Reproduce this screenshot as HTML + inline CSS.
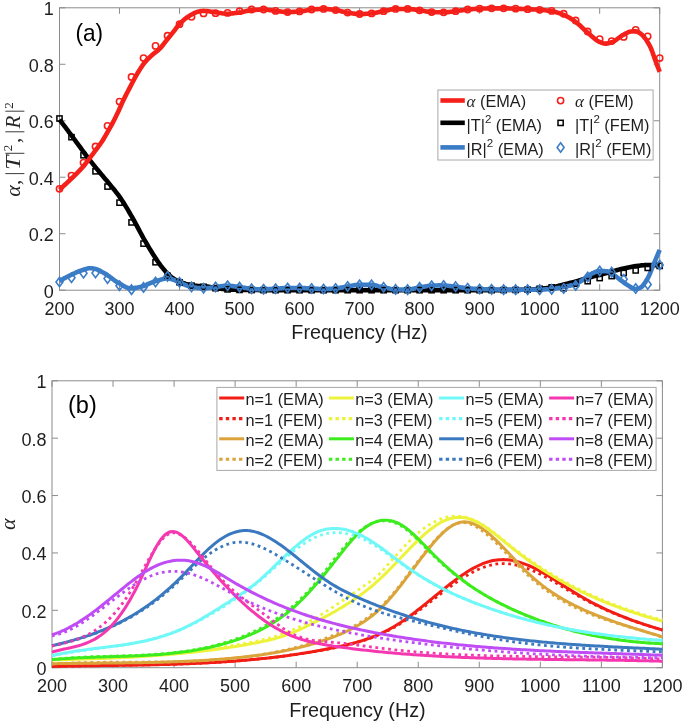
<!DOCTYPE html><html><head><meta charset="utf-8"><style>html,body{margin:0;padding:0;background:#fff;}svg{display:block;will-change:transform;}text{font-family:"Liberation Sans",sans-serif;fill:#1e1e1e;}</style></head><body>
<svg width="685" height="723" viewBox="0 0 685 723">
<rect width="685" height="723" fill="#fff"/>
<line x1="59.50" y1="290.2" x2="59.50" y2="284.2" stroke="#8c8c8c" stroke-width="1"/>
<line x1="59.50" y1="7.8" x2="59.50" y2="13.8" stroke="#8c8c8c" stroke-width="1"/>
<line x1="119.52" y1="290.2" x2="119.52" y2="284.2" stroke="#8c8c8c" stroke-width="1"/>
<line x1="119.52" y1="7.8" x2="119.52" y2="13.8" stroke="#8c8c8c" stroke-width="1"/>
<line x1="179.54" y1="290.2" x2="179.54" y2="284.2" stroke="#8c8c8c" stroke-width="1"/>
<line x1="179.54" y1="7.8" x2="179.54" y2="13.8" stroke="#8c8c8c" stroke-width="1"/>
<line x1="239.56" y1="290.2" x2="239.56" y2="284.2" stroke="#8c8c8c" stroke-width="1"/>
<line x1="239.56" y1="7.8" x2="239.56" y2="13.8" stroke="#8c8c8c" stroke-width="1"/>
<line x1="299.58" y1="290.2" x2="299.58" y2="284.2" stroke="#8c8c8c" stroke-width="1"/>
<line x1="299.58" y1="7.8" x2="299.58" y2="13.8" stroke="#8c8c8c" stroke-width="1"/>
<line x1="359.60" y1="290.2" x2="359.60" y2="284.2" stroke="#8c8c8c" stroke-width="1"/>
<line x1="359.60" y1="7.8" x2="359.60" y2="13.8" stroke="#8c8c8c" stroke-width="1"/>
<line x1="419.62" y1="290.2" x2="419.62" y2="284.2" stroke="#8c8c8c" stroke-width="1"/>
<line x1="419.62" y1="7.8" x2="419.62" y2="13.8" stroke="#8c8c8c" stroke-width="1"/>
<line x1="479.64" y1="290.2" x2="479.64" y2="284.2" stroke="#8c8c8c" stroke-width="1"/>
<line x1="479.64" y1="7.8" x2="479.64" y2="13.8" stroke="#8c8c8c" stroke-width="1"/>
<line x1="539.66" y1="290.2" x2="539.66" y2="284.2" stroke="#8c8c8c" stroke-width="1"/>
<line x1="539.66" y1="7.8" x2="539.66" y2="13.8" stroke="#8c8c8c" stroke-width="1"/>
<line x1="599.68" y1="290.2" x2="599.68" y2="284.2" stroke="#8c8c8c" stroke-width="1"/>
<line x1="599.68" y1="7.8" x2="599.68" y2="13.8" stroke="#8c8c8c" stroke-width="1"/>
<line x1="659.70" y1="290.2" x2="659.70" y2="284.2" stroke="#8c8c8c" stroke-width="1"/>
<line x1="659.70" y1="7.8" x2="659.70" y2="13.8" stroke="#8c8c8c" stroke-width="1"/>
<line x1="59.5" y1="290.20" x2="65.5" y2="290.20" stroke="#8c8c8c" stroke-width="1"/>
<line x1="659.7" y1="290.20" x2="653.7" y2="290.20" stroke="#8c8c8c" stroke-width="1"/>
<line x1="59.5" y1="233.72" x2="65.5" y2="233.72" stroke="#8c8c8c" stroke-width="1"/>
<line x1="659.7" y1="233.72" x2="653.7" y2="233.72" stroke="#8c8c8c" stroke-width="1"/>
<line x1="59.5" y1="177.24" x2="65.5" y2="177.24" stroke="#8c8c8c" stroke-width="1"/>
<line x1="659.7" y1="177.24" x2="653.7" y2="177.24" stroke="#8c8c8c" stroke-width="1"/>
<line x1="59.5" y1="120.76" x2="65.5" y2="120.76" stroke="#8c8c8c" stroke-width="1"/>
<line x1="659.7" y1="120.76" x2="653.7" y2="120.76" stroke="#8c8c8c" stroke-width="1"/>
<line x1="59.5" y1="64.28" x2="65.5" y2="64.28" stroke="#8c8c8c" stroke-width="1"/>
<line x1="659.7" y1="64.28" x2="653.7" y2="64.28" stroke="#8c8c8c" stroke-width="1"/>
<line x1="59.5" y1="7.80" x2="65.5" y2="7.80" stroke="#8c8c8c" stroke-width="1"/>
<line x1="659.7" y1="7.80" x2="653.7" y2="7.80" stroke="#8c8c8c" stroke-width="1"/>
<rect x="59.5" y="7.8" width="600.20" height="282.40" fill="none" stroke="#8c8c8c" stroke-width="1"/>
<g fill="none" stroke-linejoin="round" stroke-linecap="butt">
<path d="M59.50 119.63L60.70 121.19L61.91 122.75L63.11 124.32L64.31 125.90L65.51 127.48L66.72 129.07L67.92 130.67L69.12 132.27L70.33 133.88L71.53 135.50L72.73 137.13L73.93 138.76L75.14 140.39L76.34 142.02L77.54 143.65L78.74 145.30L79.95 146.95L81.15 148.61L82.35 150.26L83.56 151.91L84.76 153.55L85.96 155.17L87.16 156.76L88.37 158.32L89.57 159.87L90.77 161.39L91.98 162.91L93.18 164.40L94.38 165.89L95.58 167.37L96.79 168.84L97.99 170.31L99.19 171.77L100.40 173.21L101.60 174.64L102.80 176.06L104.00 177.47L105.21 178.88L106.41 180.29L107.61 181.72L108.82 183.17L110.02 184.65L111.22 186.12L112.42 187.59L113.63 189.06L114.83 190.55L116.03 192.07L117.23 193.63L118.44 195.23L119.64 196.89L120.84 198.62L122.05 200.42L123.25 202.28L124.45 204.19L125.65 206.15L126.86 208.16L128.06 210.19L129.26 212.25L130.47 214.33L131.67 216.41L132.87 218.51L134.07 220.67L135.28 222.88L136.48 225.14L137.68 227.42L138.89 229.70L140.09 231.97L141.29 234.21L142.49 236.40L143.70 238.53L144.90 240.63L146.10 242.70L147.30 244.76L148.51 246.80L149.71 248.81L150.91 250.79L152.12 252.75L153.32 254.66L154.52 256.54L155.72 258.38L156.93 260.19L158.13 261.97L159.33 263.68L160.54 265.33L161.74 266.89L162.94 268.40L164.14 269.85L165.35 271.24L166.55 272.54L167.75 273.75L168.96 274.91L170.16 276.02L171.36 277.05L172.56 277.97L173.77 278.76L174.97 279.45L176.17 280.08L177.37 280.65L178.58 281.18L179.78 281.68L180.98 282.15L182.19 282.62L183.39 283.07L184.59 283.50L185.79 283.91L187.00 284.27L188.20 284.58L189.40 284.84L190.61 285.05L191.81 285.24L193.01 285.41L194.21 285.56L195.42 285.70L196.62 285.82L197.82 285.94L199.03 286.04L200.23 286.12L201.43 286.19L202.63 286.25L203.84 286.32L205.04 286.40L206.24 286.50L207.45 286.64L208.65 286.84L209.85 287.08L211.05 287.34L212.26 287.61L213.46 287.87L214.66 288.09L215.86 288.26L217.07 288.41L218.27 288.55L219.47 288.68L220.68 288.80L221.88 288.92L223.08 289.02L224.28 289.12L225.49 289.21L226.69 289.30L227.89 289.37L229.10 289.45L230.30 289.53L231.50 289.60L232.70 289.67L233.91 289.73L235.11 289.79L236.31 289.84L237.52 289.88L238.72 289.91L239.92 289.92L241.12 289.93L242.33 289.95L243.53 289.96L244.73 289.97L245.93 289.98L247.14 289.99L248.34 290.00L249.54 290.01L250.75 290.02L251.95 290.03L253.15 290.04L254.35 290.05L255.56 290.06L256.76 290.07L257.96 290.07L259.17 290.08L260.37 290.09L261.57 290.10L262.77 290.10L263.98 290.11L265.18 290.12L266.38 290.12L267.59 290.13L268.79 290.13L269.99 290.14L271.19 290.14L272.40 290.15L273.60 290.15L274.80 290.16L276.01 290.16L277.21 290.17L278.41 290.17L279.61 290.17L280.82 290.18L282.02 290.18L283.22 290.18L284.42 290.18L285.63 290.19L286.83 290.19L288.03 290.19L289.24 290.19L290.44 290.19L291.64 290.20L292.84 290.20L294.05 290.20L295.25 290.20L296.45 290.20L297.66 290.20L298.86 290.20L300.06 290.20L301.26 290.20L302.47 290.20L303.67 290.20L304.87 290.20L306.08 290.20L307.28 290.20L308.48 290.20L309.68 290.20L310.89 290.20L312.09 290.20L313.29 290.20L314.49 290.20L315.70 290.20L316.90 290.20L318.10 290.20L319.31 290.20L320.51 290.20L321.71 290.20L322.91 290.20L324.12 290.20L325.32 290.20L326.52 290.20L327.73 290.20L328.93 290.20L330.13 290.20L331.33 290.20L332.54 290.20L333.74 290.20L334.94 290.20L336.15 290.20L337.35 290.20L338.55 290.20L339.75 290.20L340.96 290.20L342.16 290.20L343.36 290.20L344.56 290.20L345.77 290.20L346.97 290.20L348.17 290.20L349.38 290.20L350.58 290.20L351.78 290.20L352.98 290.20L354.19 290.20L355.39 290.20L356.59 290.20L357.80 290.20L359.00 290.20L360.20 290.20L361.40 290.20L362.61 290.20L363.81 290.20L365.01 290.20L366.22 290.20L367.42 290.20L368.62 290.20L369.82 290.20L371.03 290.20L372.23 290.20L373.43 290.20L374.64 290.20L375.84 290.20L377.04 290.20L378.24 290.20L379.45 290.20L380.65 290.20L381.85 290.20L383.05 290.20L384.26 290.20L385.46 290.20L386.66 290.20L387.87 290.20L389.07 290.20L390.27 290.20L391.47 290.20L392.68 290.20L393.88 290.20L395.08 290.20L396.29 290.20L397.49 290.20L398.69 290.20L399.89 290.20L401.10 290.20L402.30 290.20L403.50 290.20L404.71 290.20L405.91 290.20L407.11 290.20L408.31 290.20L409.52 290.20L410.72 290.20L411.92 290.20L413.12 290.20L414.33 290.20L415.53 290.20L416.73 290.20L417.94 290.20L419.14 290.20L420.34 290.20L421.54 290.20L422.75 290.20L423.95 290.20L425.15 290.20L426.36 290.20L427.56 290.20L428.76 290.20L429.96 290.20L431.17 290.20L432.37 290.20L433.57 290.20L434.78 290.20L435.98 290.20L437.18 290.20L438.38 290.20L439.59 290.20L440.79 290.20L441.99 290.20L443.19 290.20L444.40 290.20L445.60 290.20L446.80 290.20L448.01 290.20L449.21 290.20L450.41 290.20L451.61 290.20L452.82 290.20L454.02 290.20L455.22 290.20L456.43 290.20L457.63 290.20L458.83 290.20L460.03 290.20L461.24 290.20L462.44 290.20L463.64 290.20L464.85 290.20L466.05 290.20L467.25 290.20L468.45 290.20L469.66 290.20L470.86 290.20L472.06 290.20L473.27 290.20L474.47 290.20L475.67 290.20L476.87 290.20L478.08 290.20L479.28 290.20L480.48 290.20L481.68 290.20L482.89 290.20L484.09 290.19L485.29 290.19L486.50 290.19L487.70 290.18L488.90 290.18L490.10 290.17L491.31 290.16L492.51 290.16L493.71 290.15L494.92 290.14L496.12 290.13L497.32 290.12L498.52 290.11L499.73 290.10L500.93 290.09L502.13 290.07L503.34 290.06L504.54 290.05L505.74 290.04L506.94 290.02L508.15 290.01L509.35 290.00L510.55 289.98L511.75 289.97L512.96 289.95L514.16 289.94L515.36 289.92L516.57 289.91L517.77 289.89L518.97 289.87L520.17 289.84L521.38 289.82L522.58 289.79L523.78 289.76L524.99 289.72L526.19 289.68L527.39 289.64L528.59 289.60L529.80 289.54L531.00 289.47L532.20 289.40L533.41 289.31L534.61 289.22L535.81 289.12L537.01 289.02L538.22 288.91L539.42 288.81L540.62 288.70L541.83 288.59L543.03 288.47L544.23 288.35L545.43 288.21L546.64 288.07L547.84 287.92L549.04 287.76L550.24 287.59L551.45 287.41L552.65 287.21L553.85 286.97L555.06 286.71L556.26 286.42L557.46 286.12L558.66 285.81L559.87 285.50L561.07 285.18L562.27 284.88L563.48 284.59L564.68 284.29L565.88 284.00L567.08 283.70L568.29 283.40L569.49 283.10L570.69 282.79L571.90 282.48L573.10 282.17L574.30 281.85L575.50 281.53L576.71 281.21L577.91 280.87L579.11 280.53L580.31 280.17L581.52 279.81L582.72 279.44L583.92 279.07L585.13 278.70L586.33 278.33L587.53 277.97L588.73 277.62L589.94 277.28L591.14 276.96L592.34 276.66L593.55 276.37L594.75 276.10L595.95 275.83L597.15 275.56L598.36 275.28L599.56 274.98L600.76 274.67L601.97 274.34L603.17 274.01L604.37 273.66L605.57 273.31L606.78 272.96L607.98 272.61L609.18 272.26L610.38 271.92L611.59 271.59L612.79 271.26L613.99 270.93L615.20 270.60L616.40 270.28L617.60 269.95L618.80 269.64L620.01 269.33L621.21 269.04L622.41 268.75L623.62 268.48L624.82 268.20L626.02 267.92L627.22 267.65L628.43 267.39L629.63 267.13L630.83 266.89L632.04 266.67L633.24 266.46L634.44 266.28L635.64 266.12L636.85 265.97L638.05 265.81L639.25 265.66L640.46 265.51L641.66 265.38L642.86 265.27L644.06 265.17L645.27 265.11L646.47 265.07L647.67 265.07L648.87 265.07L650.08 265.08L651.28 265.10L652.48 265.13L653.69 265.18L654.89 265.23L656.09 265.31L657.29 265.39L658.50 265.50L659.70 265.63" stroke="#000" stroke-width="4.6"/>
<path d="M59.50 189.67L60.70 188.60L61.91 187.52L63.11 186.42L64.31 185.32L65.51 184.21L66.72 183.08L67.92 181.95L69.12 180.80L70.33 179.64L71.53 178.49L72.73 177.33L73.93 176.18L75.14 175.01L76.34 173.84L77.54 172.64L78.74 171.42L79.95 170.17L81.15 168.88L82.35 167.55L83.56 166.17L84.76 164.71L85.96 163.16L87.16 161.56L88.37 159.94L89.57 158.31L90.77 156.70L91.98 155.12L93.18 153.55L94.38 151.96L95.58 150.36L96.79 148.73L97.99 147.10L99.19 145.46L100.40 143.79L101.60 142.05L102.80 140.21L104.00 138.24L105.21 136.18L106.41 134.07L107.61 131.96L108.82 129.86L110.02 127.73L111.22 125.56L112.42 123.33L113.63 121.04L114.83 118.69L116.03 116.28L117.23 113.80L118.44 111.22L119.64 108.51L120.84 105.75L122.05 103.05L123.25 100.48L124.45 98.02L125.65 95.62L126.86 93.27L128.06 90.96L129.26 88.66L130.47 86.36L131.67 84.04L132.87 81.72L134.07 79.44L135.28 77.21L136.48 75.07L137.68 73.04L138.89 71.05L140.09 69.10L141.29 67.22L142.49 65.43L143.70 63.76L144.90 62.24L146.10 60.87L147.30 59.59L148.51 58.39L149.71 57.25L150.91 56.15L152.12 55.06L153.32 54.02L154.52 53.06L155.72 52.14L156.93 51.20L158.13 50.22L159.33 49.14L160.54 47.91L161.74 46.52L162.94 45.02L164.14 43.45L165.35 41.86L166.55 40.29L167.75 38.79L168.96 37.32L170.16 35.86L171.36 34.39L172.56 32.92L173.77 31.42L174.97 29.87L176.17 28.23L177.37 26.61L178.58 25.14L179.78 23.87L180.98 22.65L182.19 21.48L183.39 20.37L184.59 19.32L185.79 18.34L187.00 17.43L188.20 16.59L189.40 15.83L190.61 15.10L191.81 14.40L193.01 13.73L194.21 13.12L195.42 12.59L196.62 12.14L197.82 11.80L199.03 11.54L200.23 11.29L201.43 11.09L202.63 10.95L203.84 10.91L205.04 10.94L206.24 11.02L207.45 11.14L208.65 11.29L209.85 11.46L211.05 11.65L212.26 11.84L213.46 12.03L214.66 12.20L215.86 12.36L217.07 12.52L218.27 12.71L219.47 12.90L220.68 13.09L221.88 13.28L223.08 13.44L224.28 13.58L225.49 13.67L226.69 13.73L227.89 13.72L229.10 13.68L230.30 13.61L231.50 13.51L232.70 13.38L233.91 13.24L235.11 13.09L236.31 12.93L237.52 12.77L238.72 12.61L239.92 12.43L241.12 12.21L242.33 11.95L243.53 11.68L244.73 11.40L245.93 11.13L247.14 10.87L248.34 10.64L249.54 10.45L250.75 10.32L251.95 10.20L253.15 10.08L254.35 9.98L255.56 9.87L256.76 9.78L257.96 9.69L259.17 9.62L260.37 9.56L261.57 9.52L262.77 9.50L263.98 9.50L265.18 9.54L266.38 9.64L267.59 9.77L268.79 9.93L269.99 10.11L271.19 10.30L272.40 10.48L273.60 10.66L274.80 10.82L276.01 10.95L277.21 11.09L278.41 11.24L279.61 11.39L280.82 11.54L282.02 11.68L283.22 11.80L284.42 11.91L285.63 11.98L286.83 12.03L288.03 12.03L289.24 12.02L290.44 11.99L291.64 11.95L292.84 11.90L294.05 11.84L295.25 11.77L296.45 11.69L297.66 11.61L298.86 11.52L300.06 11.43L301.26 11.29L302.47 11.10L303.67 10.88L304.87 10.63L306.08 10.38L307.28 10.13L308.48 9.90L309.68 9.71L310.89 9.56L312.09 9.46L313.29 9.37L314.49 9.29L315.70 9.21L316.90 9.14L318.10 9.08L319.31 9.02L320.51 8.98L321.71 8.95L322.91 8.93L324.12 8.93L325.32 8.97L326.52 9.03L327.73 9.12L328.93 9.23L330.13 9.36L331.33 9.50L332.54 9.66L333.74 9.81L334.94 9.97L336.15 10.14L337.35 10.34L338.55 10.58L339.75 10.85L340.96 11.14L342.16 11.44L343.36 11.73L344.56 12.01L345.77 12.27L346.97 12.50L348.17 12.69L349.38 12.88L350.58 13.07L351.78 13.26L352.98 13.45L354.19 13.61L355.39 13.76L356.59 13.88L357.80 13.96L359.00 14.01L360.20 14.01L361.40 14.00L362.61 13.97L363.81 13.93L365.01 13.87L366.22 13.81L367.42 13.74L368.62 13.66L369.82 13.58L371.03 13.49L372.23 13.39L373.43 13.25L374.64 13.07L375.84 12.85L377.04 12.61L378.24 12.35L379.45 12.08L380.65 11.81L381.85 11.54L383.05 11.30L384.26 11.06L385.46 10.79L386.66 10.50L387.87 10.20L389.07 9.91L390.27 9.62L391.47 9.37L392.68 9.17L393.88 9.02L395.08 8.94L396.29 8.93L397.49 8.93L398.69 8.93L399.89 8.93L401.10 8.93L402.30 8.93L403.50 8.93L404.71 8.93L405.91 8.93L407.11 8.93L408.31 8.94L409.52 8.99L410.72 9.09L411.92 9.22L413.12 9.37L414.33 9.55L415.53 9.73L416.73 9.92L417.94 10.11L419.14 10.28L420.34 10.44L421.54 10.62L422.75 10.82L423.95 11.03L425.15 11.24L426.36 11.44L427.56 11.63L428.76 11.79L429.96 11.92L431.17 12.01L432.37 12.07L433.57 12.11L434.78 12.15L435.98 12.19L437.18 12.23L438.38 12.26L439.59 12.28L440.79 12.30L441.99 12.31L443.19 12.32L444.40 12.31L445.60 12.27L446.80 12.19L448.01 12.09L449.21 11.97L450.41 11.83L451.61 11.68L452.82 11.53L454.02 11.38L455.22 11.24L456.43 11.09L457.63 10.93L458.83 10.76L460.03 10.57L461.24 10.38L462.44 10.19L463.64 10.00L464.85 9.82L466.05 9.67L467.25 9.53L468.45 9.42L469.66 9.31L470.86 9.20L472.06 9.10L473.27 9.01L474.47 8.92L475.67 8.84L476.87 8.77L478.08 8.71L479.28 8.66L480.48 8.62L481.68 8.58L482.89 8.54L484.09 8.50L485.29 8.46L486.50 8.43L487.70 8.41L488.90 8.39L490.10 8.37L491.31 8.37L492.51 8.36L493.71 8.36L494.92 8.36L496.12 8.36L497.32 8.36L498.52 8.36L499.73 8.36L500.93 8.36L502.13 8.36L503.34 8.36L504.54 8.37L505.74 8.38L506.94 8.40L508.15 8.42L509.35 8.45L510.55 8.48L511.75 8.52L512.96 8.56L514.16 8.60L515.36 8.64L516.57 8.68L517.77 8.72L518.97 8.78L520.17 8.83L521.38 8.89L522.58 8.95L523.78 9.02L524.99 9.08L526.19 9.14L527.39 9.20L528.59 9.25L529.80 9.31L531.00 9.36L532.20 9.40L533.41 9.45L534.61 9.50L535.81 9.56L537.01 9.62L538.22 9.69L539.42 9.76L540.62 9.85L541.83 9.94L543.03 10.05L544.23 10.17L545.43 10.30L546.64 10.45L547.84 10.60L549.04 10.77L550.24 10.96L551.45 11.15L552.65 11.37L553.85 11.63L555.06 11.92L556.26 12.25L557.46 12.61L558.66 13.00L559.87 13.41L561.07 13.85L562.27 14.31L563.48 14.78L564.68 15.29L565.88 15.85L567.08 16.46L568.29 17.12L569.49 17.82L570.69 18.56L571.90 19.33L573.10 20.13L574.30 20.96L575.50 21.80L576.71 22.69L577.91 23.67L579.11 24.72L580.31 25.82L581.52 26.95L582.72 28.11L583.92 29.26L585.13 30.39L586.33 31.49L587.53 32.53L588.73 33.55L589.94 34.62L591.14 35.71L592.34 36.79L593.55 37.85L594.75 38.86L595.95 39.80L597.15 40.64L598.36 41.35L599.56 41.92L600.76 42.40L601.97 42.87L603.17 43.26L604.37 43.55L605.57 43.66L606.78 43.59L607.98 43.38L609.18 43.06L610.38 42.68L611.59 42.28L612.79 41.82L613.99 41.20L615.20 40.47L616.40 39.65L617.60 38.77L618.80 37.87L620.01 36.98L621.21 36.13L622.41 35.34L623.62 34.66L624.82 34.03L626.02 33.37L627.22 32.74L628.43 32.19L629.63 31.77L630.83 31.53L632.04 31.42L633.24 31.32L634.44 31.26L635.64 31.24L636.85 31.43L638.05 31.96L639.25 32.72L640.46 33.59L641.66 34.50L642.86 35.62L644.06 36.98L645.27 38.54L646.47 40.28L647.67 42.20L648.87 44.26L650.08 46.45L651.28 49.07L652.48 52.27L653.69 55.75L654.89 59.23L656.09 62.46L657.29 65.62L658.50 68.77L659.70 71.90" stroke="#f5201a" stroke-width="4.6"/>
<path d="M59.50 281.16L60.70 280.44L61.91 279.73L63.11 279.03L64.31 278.35L65.51 277.69L66.72 277.05L67.92 276.42L69.12 275.81L70.33 275.23L71.53 274.66L72.73 274.09L73.93 273.54L75.14 272.99L76.34 272.46L77.54 271.94L78.74 271.45L79.95 270.98L81.15 270.54L82.35 270.13L83.56 269.76L84.76 269.37L85.96 268.97L87.16 268.62L88.37 268.34L89.57 268.19L90.77 268.19L91.98 268.31L93.18 268.51L94.38 268.76L95.58 269.04L96.79 269.38L97.99 269.83L99.19 270.38L100.40 271.00L101.60 271.67L102.80 272.37L104.00 273.09L105.21 273.81L106.41 274.52L107.61 275.30L108.82 276.14L110.02 277.02L111.22 277.93L112.42 278.84L113.63 279.75L114.83 280.63L116.03 281.46L117.23 282.23L118.44 282.92L119.64 283.61L120.84 284.32L122.05 285.05L123.25 285.76L124.45 286.42L125.65 287.02L126.86 287.53L128.06 287.91L129.26 288.15L130.47 288.22L131.67 288.19L132.87 288.11L134.07 287.99L135.28 287.83L136.48 287.64L137.68 287.42L138.89 287.17L140.09 286.91L141.29 286.64L142.49 286.35L143.70 286.03L144.90 285.57L146.10 285.03L147.30 284.43L148.51 283.84L149.71 283.31L150.91 282.84L152.12 282.40L153.32 281.96L154.52 281.54L155.72 281.15L156.93 280.77L158.13 280.43L159.33 280.10L160.54 279.74L161.74 279.39L162.94 279.05L164.14 278.76L165.35 278.53L166.55 278.38L167.75 278.34L168.96 278.45L170.16 278.69L171.36 279.04L172.56 279.45L173.77 279.91L174.97 280.38L176.17 280.84L177.37 281.30L178.58 281.84L179.78 282.44L180.98 283.05L182.19 283.65L183.39 284.21L184.59 284.71L185.79 285.13L187.00 285.55L188.20 285.94L189.40 286.32L190.61 286.66L191.81 286.97L193.01 287.22L194.21 287.42L195.42 287.59L196.62 287.76L197.82 287.92L199.03 288.05L200.23 288.15L201.43 288.21L202.63 288.22L203.84 288.20L205.04 288.15L206.24 288.08L207.45 288.00L208.65 287.92L209.85 287.80L211.05 287.65L212.26 287.47L213.46 287.30L214.66 287.13L215.86 286.97L217.07 286.80L218.27 286.62L219.47 286.43L220.68 286.24L221.88 286.07L223.08 285.92L224.28 285.80L225.49 285.72L226.69 285.68L227.89 285.70L229.10 285.75L230.30 285.85L231.50 285.97L232.70 286.12L233.91 286.28L235.11 286.46L236.31 286.64L237.52 286.81L238.72 286.98L239.92 287.14L241.12 287.30L242.33 287.48L243.53 287.67L244.73 287.86L245.93 288.05L247.14 288.24L248.34 288.41L249.54 288.57L250.75 288.71L251.95 288.82L253.15 288.93L254.35 289.04L255.56 289.15L256.76 289.24L257.96 289.30L259.17 289.34L260.37 289.35L261.57 289.34L262.77 289.32L263.98 289.29L265.18 289.25L266.38 289.21L267.59 289.16L268.79 289.10L269.99 289.04L271.19 288.98L272.40 288.92L273.60 288.86L274.80 288.80L276.01 288.73L277.21 288.64L278.41 288.53L279.61 288.42L280.82 288.30L282.02 288.20L283.22 288.10L284.42 288.02L285.63 287.96L286.83 287.94L288.03 287.94L289.24 287.94L290.44 287.94L291.64 287.94L292.84 287.94L294.05 287.94L295.25 287.94L296.45 287.94L297.66 287.94L298.86 287.94L300.06 287.94L301.26 287.96L302.47 288.00L303.67 288.05L304.87 288.11L306.08 288.18L307.28 288.26L308.48 288.33L309.68 288.40L310.89 288.47L312.09 288.53L313.29 288.60L314.49 288.67L315.70 288.74L316.90 288.82L318.10 288.89L319.31 288.95L320.51 289.01L321.71 289.04L322.91 289.07L324.12 289.07L325.32 289.05L326.52 289.02L327.73 288.97L328.93 288.92L330.13 288.85L331.33 288.77L332.54 288.69L333.74 288.60L334.94 288.51L336.15 288.40L337.35 288.25L338.55 288.06L339.75 287.86L340.96 287.63L342.16 287.40L343.36 287.17L344.56 286.94L345.77 286.72L346.97 286.53L348.17 286.34L349.38 286.14L350.58 285.92L351.78 285.71L352.98 285.50L354.19 285.31L355.39 285.14L356.59 285.00L357.80 284.90L359.00 284.84L360.20 284.83L361.40 284.83L362.61 284.83L363.81 284.83L365.01 284.83L366.22 284.83L367.42 284.83L368.62 284.83L369.82 284.83L371.03 284.83L372.23 284.85L373.43 284.98L374.64 285.20L375.84 285.48L377.04 285.80L378.24 286.12L379.45 286.41L380.65 286.66L381.85 286.92L383.05 287.19L384.26 287.47L385.46 287.76L386.66 288.04L387.87 288.31L389.07 288.56L390.27 288.80L391.47 289.00L392.68 289.16L393.88 289.28L395.08 289.36L396.29 289.40L397.49 289.45L398.69 289.49L399.89 289.52L401.10 289.56L402.30 289.58L403.50 289.61L404.71 289.62L405.91 289.63L407.11 289.63L408.31 289.59L409.52 289.47L410.72 289.29L411.92 289.06L413.12 288.80L414.33 288.52L415.53 288.23L416.73 287.95L417.94 287.69L419.14 287.46L420.34 287.26L421.54 287.06L422.75 286.85L423.95 286.65L425.15 286.45L426.36 286.26L427.56 286.08L428.76 285.93L429.96 285.80L431.17 285.71L432.37 285.64L433.57 285.58L434.78 285.53L435.98 285.48L437.18 285.44L438.38 285.41L439.59 285.40L440.79 285.40L441.99 285.43L443.19 285.48L444.40 285.54L445.60 285.62L446.80 285.72L448.01 285.82L449.21 285.93L450.41 286.05L451.61 286.18L452.82 286.30L454.02 286.43L455.22 286.55L456.43 286.69L457.63 286.85L458.83 287.03L460.03 287.22L461.24 287.42L462.44 287.62L463.64 287.80L464.85 287.97L466.05 288.12L467.25 288.24L468.45 288.35L469.66 288.45L470.86 288.55L472.06 288.64L473.27 288.73L474.47 288.81L475.67 288.88L476.87 288.95L478.08 289.01L479.28 289.06L480.48 289.10L481.68 289.13L482.89 289.17L484.09 289.19L485.29 289.22L486.50 289.25L487.70 289.27L488.90 289.29L490.10 289.32L491.31 289.34L492.51 289.37L493.71 289.41L494.92 289.45L496.12 289.48L497.32 289.52L498.52 289.55L499.73 289.58L500.93 289.61L502.13 289.63L503.34 289.63L504.54 289.64L505.74 289.64L506.94 289.64L508.15 289.64L509.35 289.64L510.55 289.64L511.75 289.64L512.96 289.64L514.16 289.64L515.36 289.64L516.57 289.64L517.77 289.64L518.97 289.64L520.17 289.64L521.38 289.64L522.58 289.64L523.78 289.64L524.99 289.64L526.19 289.64L527.39 289.64L528.59 289.64L529.80 289.64L531.00 289.64L532.20 289.64L533.41 289.64L534.61 289.64L535.81 289.64L537.01 289.64L538.22 289.64L539.42 289.64L540.62 289.63L541.83 289.60L543.03 289.55L544.23 289.48L545.43 289.40L546.64 289.31L547.84 289.21L549.04 289.10L550.24 288.98L551.45 288.87L552.65 288.75L553.85 288.62L555.06 288.46L556.26 288.29L557.46 288.10L558.66 287.90L559.87 287.69L561.07 287.47L562.27 287.25L563.48 287.02L564.68 286.78L565.88 286.54L567.08 286.28L568.29 286.01L569.49 285.72L570.69 285.41L571.90 285.08L573.10 284.72L574.30 284.33L575.50 283.88L576.71 283.36L577.91 282.77L579.11 282.12L580.31 281.42L581.52 280.70L582.72 279.95L583.92 279.19L585.13 278.43L586.33 277.62L587.53 276.70L588.73 275.74L589.94 274.81L591.14 273.98L592.34 273.32L593.55 272.79L594.75 272.26L595.95 271.78L597.15 271.39L598.36 271.11L599.56 271.00L600.76 271.00L601.97 271.03L603.17 271.07L604.37 271.12L605.57 271.19L606.78 271.27L607.98 271.49L609.18 271.99L610.38 272.69L611.59 273.50L612.79 274.36L613.99 275.17L615.20 275.97L616.40 276.85L617.60 277.77L618.80 278.71L620.01 279.64L621.21 280.54L622.41 281.43L623.62 282.32L624.82 283.21L626.02 284.07L627.22 284.89L628.43 285.64L629.63 286.41L630.83 287.24L632.04 288.01L633.24 288.64L634.44 289.01L635.64 289.05L636.85 288.88L638.05 288.57L639.25 288.18L640.46 287.68L641.66 286.80L642.86 285.56L644.06 284.01L645.27 282.25L646.47 280.35L647.67 278.38L648.87 276.08L650.08 273.28L651.28 270.21L652.48 267.13L653.69 264.23L654.89 261.34L656.09 258.44L657.29 255.54L658.50 252.66L659.70 249.82" stroke="#3b7cc6" stroke-width="4.6"/>
</g>
<circle cx="59.50" cy="188.82" r="3.1" fill="none" stroke="#f5201a" stroke-width="1.6"/>
<circle cx="71.50" cy="175.55" r="3.1" fill="none" stroke="#f5201a" stroke-width="1.6"/>
<circle cx="83.51" cy="162.56" r="3.1" fill="none" stroke="#f5201a" stroke-width="1.6"/>
<circle cx="95.51" cy="146.46" r="3.1" fill="none" stroke="#f5201a" stroke-width="1.6"/>
<circle cx="107.52" cy="125.84" r="3.1" fill="none" stroke="#f5201a" stroke-width="1.6"/>
<circle cx="119.52" cy="101.56" r="3.1" fill="none" stroke="#f5201a" stroke-width="1.6"/>
<circle cx="131.52" cy="76.99" r="3.1" fill="none" stroke="#f5201a" stroke-width="1.6"/>
<circle cx="143.53" cy="58.07" r="3.1" fill="none" stroke="#f5201a" stroke-width="1.6"/>
<circle cx="155.53" cy="45.92" r="3.1" fill="none" stroke="#f5201a" stroke-width="1.6"/>
<circle cx="167.54" cy="35.76" r="3.1" fill="none" stroke="#f5201a" stroke-width="1.6"/>
<circle cx="179.54" cy="24.18" r="3.1" fill="none" stroke="#f5201a" stroke-width="1.6"/>
<circle cx="191.54" cy="16.84" r="3.1" fill="none" stroke="#f5201a" stroke-width="1.6"/>
<circle cx="203.55" cy="13.45" r="3.1" fill="none" stroke="#f5201a" stroke-width="1.6"/>
<circle cx="215.55" cy="13.17" r="3.1" fill="none" stroke="#f5201a" stroke-width="1.6"/>
<circle cx="227.56" cy="12.88" r="3.1" fill="none" stroke="#f5201a" stroke-width="1.6"/>
<circle cx="239.56" cy="11.19" r="3.1" fill="none" stroke="#f5201a" stroke-width="1.6"/>
<circle cx="251.56" cy="9.49" r="3.1" fill="none" stroke="#f5201a" stroke-width="1.6"/>
<circle cx="263.57" cy="9.49" r="3.1" fill="none" stroke="#f5201a" stroke-width="1.6"/>
<circle cx="275.57" cy="10.91" r="3.1" fill="none" stroke="#f5201a" stroke-width="1.6"/>
<circle cx="287.58" cy="12.04" r="3.1" fill="none" stroke="#f5201a" stroke-width="1.6"/>
<circle cx="299.58" cy="11.47" r="3.1" fill="none" stroke="#f5201a" stroke-width="1.6"/>
<circle cx="311.58" cy="9.49" r="3.1" fill="none" stroke="#f5201a" stroke-width="1.6"/>
<circle cx="323.59" cy="8.93" r="3.1" fill="none" stroke="#f5201a" stroke-width="1.6"/>
<circle cx="335.59" cy="10.06" r="3.1" fill="none" stroke="#f5201a" stroke-width="1.6"/>
<circle cx="347.60" cy="12.60" r="3.1" fill="none" stroke="#f5201a" stroke-width="1.6"/>
<circle cx="359.60" cy="14.01" r="3.1" fill="none" stroke="#f5201a" stroke-width="1.6"/>
<circle cx="371.60" cy="13.45" r="3.1" fill="none" stroke="#f5201a" stroke-width="1.6"/>
<circle cx="383.61" cy="11.19" r="3.1" fill="none" stroke="#f5201a" stroke-width="1.6"/>
<circle cx="395.61" cy="8.93" r="3.1" fill="none" stroke="#f5201a" stroke-width="1.6"/>
<circle cx="407.62" cy="8.93" r="3.1" fill="none" stroke="#f5201a" stroke-width="1.6"/>
<circle cx="419.62" cy="10.34" r="3.1" fill="none" stroke="#f5201a" stroke-width="1.6"/>
<circle cx="431.62" cy="12.04" r="3.1" fill="none" stroke="#f5201a" stroke-width="1.6"/>
<circle cx="443.63" cy="12.32" r="3.1" fill="none" stroke="#f5201a" stroke-width="1.6"/>
<circle cx="455.63" cy="11.19" r="3.1" fill="none" stroke="#f5201a" stroke-width="1.6"/>
<circle cx="467.64" cy="9.49" r="3.1" fill="none" stroke="#f5201a" stroke-width="1.6"/>
<circle cx="479.64" cy="8.65" r="3.1" fill="none" stroke="#f5201a" stroke-width="1.6"/>
<circle cx="491.64" cy="8.36" r="3.1" fill="none" stroke="#f5201a" stroke-width="1.6"/>
<circle cx="503.65" cy="8.36" r="3.1" fill="none" stroke="#f5201a" stroke-width="1.6"/>
<circle cx="515.65" cy="8.65" r="3.1" fill="none" stroke="#f5201a" stroke-width="1.6"/>
<circle cx="527.66" cy="9.21" r="3.1" fill="none" stroke="#f5201a" stroke-width="1.6"/>
<circle cx="539.66" cy="9.78" r="3.1" fill="none" stroke="#f5201a" stroke-width="1.6"/>
<circle cx="551.66" cy="10.91" r="3.1" fill="none" stroke="#f5201a" stroke-width="1.6"/>
<circle cx="563.67" cy="13.73" r="3.1" fill="none" stroke="#f5201a" stroke-width="1.6"/>
<circle cx="575.67" cy="20.51" r="3.1" fill="none" stroke="#f5201a" stroke-width="1.6"/>
<circle cx="587.68" cy="31.52" r="3.1" fill="none" stroke="#f5201a" stroke-width="1.6"/>
<circle cx="599.68" cy="39.15" r="3.1" fill="none" stroke="#f5201a" stroke-width="1.6"/>
<circle cx="611.68" cy="41.12" r="3.1" fill="none" stroke="#f5201a" stroke-width="1.6"/>
<circle cx="623.69" cy="36.89" r="3.1" fill="none" stroke="#f5201a" stroke-width="1.6"/>
<circle cx="635.69" cy="29.83" r="3.1" fill="none" stroke="#f5201a" stroke-width="1.6"/>
<circle cx="647.70" cy="36.32" r="3.1" fill="none" stroke="#f5201a" stroke-width="1.6"/>
<circle cx="659.70" cy="58.07" r="3.1" fill="none" stroke="#f5201a" stroke-width="1.6"/>
<rect x="56.90" y="115.90" width="5.2" height="5.2" fill="none" stroke="#000" stroke-width="1.5"/>
<rect x="68.90" y="134.54" width="5.2" height="5.2" fill="none" stroke="#000" stroke-width="1.5"/>
<rect x="80.91" y="152.61" width="5.2" height="5.2" fill="none" stroke="#000" stroke-width="1.5"/>
<rect x="92.91" y="168.71" width="5.2" height="5.2" fill="none" stroke="#000" stroke-width="1.5"/>
<rect x="104.92" y="183.96" width="5.2" height="5.2" fill="none" stroke="#000" stroke-width="1.5"/>
<rect x="116.92" y="200.06" width="5.2" height="5.2" fill="none" stroke="#000" stroke-width="1.5"/>
<rect x="128.92" y="219.82" width="5.2" height="5.2" fill="none" stroke="#000" stroke-width="1.5"/>
<rect x="140.93" y="241.00" width="5.2" height="5.2" fill="none" stroke="#000" stroke-width="1.5"/>
<rect x="152.93" y="259.64" width="5.2" height="5.2" fill="none" stroke="#000" stroke-width="1.5"/>
<rect x="164.94" y="273.20" width="5.2" height="5.2" fill="none" stroke="#000" stroke-width="1.5"/>
<rect x="176.94" y="279.69" width="5.2" height="5.2" fill="none" stroke="#000" stroke-width="1.5"/>
<rect x="188.94" y="283.08" width="5.2" height="5.2" fill="none" stroke="#000" stroke-width="1.5"/>
<rect x="200.95" y="284.21" width="5.2" height="5.2" fill="none" stroke="#000" stroke-width="1.5"/>
<rect x="212.95" y="285.62" width="5.2" height="5.2" fill="none" stroke="#000" stroke-width="1.5"/>
<rect x="224.96" y="286.75" width="5.2" height="5.2" fill="none" stroke="#000" stroke-width="1.5"/>
<rect x="236.96" y="287.32" width="5.2" height="5.2" fill="none" stroke="#000" stroke-width="1.5"/>
<rect x="248.96" y="287.43" width="5.2" height="5.2" fill="none" stroke="#000" stroke-width="1.5"/>
<rect x="260.97" y="287.51" width="5.2" height="5.2" fill="none" stroke="#000" stroke-width="1.5"/>
<rect x="272.97" y="287.56" width="5.2" height="5.2" fill="none" stroke="#000" stroke-width="1.5"/>
<rect x="284.98" y="287.59" width="5.2" height="5.2" fill="none" stroke="#000" stroke-width="1.5"/>
<rect x="296.98" y="287.60" width="5.2" height="5.2" fill="none" stroke="#000" stroke-width="1.5"/>
<rect x="308.98" y="287.60" width="5.2" height="5.2" fill="none" stroke="#000" stroke-width="1.5"/>
<rect x="320.99" y="287.60" width="5.2" height="5.2" fill="none" stroke="#000" stroke-width="1.5"/>
<rect x="332.99" y="287.60" width="5.2" height="5.2" fill="none" stroke="#000" stroke-width="1.5"/>
<rect x="345.00" y="287.60" width="5.2" height="5.2" fill="none" stroke="#000" stroke-width="1.5"/>
<rect x="357.00" y="287.60" width="5.2" height="5.2" fill="none" stroke="#000" stroke-width="1.5"/>
<rect x="369.00" y="287.60" width="5.2" height="5.2" fill="none" stroke="#000" stroke-width="1.5"/>
<rect x="381.01" y="287.60" width="5.2" height="5.2" fill="none" stroke="#000" stroke-width="1.5"/>
<rect x="393.01" y="287.60" width="5.2" height="5.2" fill="none" stroke="#000" stroke-width="1.5"/>
<rect x="405.02" y="287.60" width="5.2" height="5.2" fill="none" stroke="#000" stroke-width="1.5"/>
<rect x="417.02" y="287.60" width="5.2" height="5.2" fill="none" stroke="#000" stroke-width="1.5"/>
<rect x="429.02" y="287.60" width="5.2" height="5.2" fill="none" stroke="#000" stroke-width="1.5"/>
<rect x="441.03" y="287.60" width="5.2" height="5.2" fill="none" stroke="#000" stroke-width="1.5"/>
<rect x="453.03" y="287.60" width="5.2" height="5.2" fill="none" stroke="#000" stroke-width="1.5"/>
<rect x="465.04" y="287.60" width="5.2" height="5.2" fill="none" stroke="#000" stroke-width="1.5"/>
<rect x="477.04" y="287.60" width="5.2" height="5.2" fill="none" stroke="#000" stroke-width="1.5"/>
<rect x="489.04" y="287.56" width="5.2" height="5.2" fill="none" stroke="#000" stroke-width="1.5"/>
<rect x="501.05" y="287.46" width="5.2" height="5.2" fill="none" stroke="#000" stroke-width="1.5"/>
<rect x="513.05" y="287.32" width="5.2" height="5.2" fill="none" stroke="#000" stroke-width="1.5"/>
<rect x="525.06" y="287.04" width="5.2" height="5.2" fill="none" stroke="#000" stroke-width="1.5"/>
<rect x="537.06" y="286.19" width="5.2" height="5.2" fill="none" stroke="#000" stroke-width="1.5"/>
<rect x="549.06" y="284.78" width="5.2" height="5.2" fill="none" stroke="#000" stroke-width="1.5"/>
<rect x="561.07" y="285.62" width="5.2" height="5.2" fill="none" stroke="#000" stroke-width="1.5"/>
<rect x="573.07" y="281.10" width="5.2" height="5.2" fill="none" stroke="#000" stroke-width="1.5"/>
<rect x="585.08" y="278.56" width="5.2" height="5.2" fill="none" stroke="#000" stroke-width="1.5"/>
<rect x="597.08" y="275.46" width="5.2" height="5.2" fill="none" stroke="#000" stroke-width="1.5"/>
<rect x="609.08" y="273.48" width="5.2" height="5.2" fill="none" stroke="#000" stroke-width="1.5"/>
<rect x="621.09" y="270.37" width="5.2" height="5.2" fill="none" stroke="#000" stroke-width="1.5"/>
<rect x="633.09" y="267.83" width="5.2" height="5.2" fill="none" stroke="#000" stroke-width="1.5"/>
<rect x="645.10" y="265.29" width="5.2" height="5.2" fill="none" stroke="#000" stroke-width="1.5"/>
<rect x="657.10" y="263.31" width="5.2" height="5.2" fill="none" stroke="#000" stroke-width="1.5"/>
<path d="M59.50 277.31L63.00 282.01L59.50 286.71L56.00 282.01Z" fill="none" stroke="#3b7cc6" stroke-width="1.6"/>
<path d="M71.50 273.07L75.00 277.77L71.50 282.47L68.00 277.77Z" fill="none" stroke="#3b7cc6" stroke-width="1.6"/>
<path d="M83.51 268.56L87.01 273.26L83.51 277.96L80.01 273.26Z" fill="none" stroke="#3b7cc6" stroke-width="1.6"/>
<path d="M95.51 268.27L99.01 272.97L95.51 277.67L92.01 272.97Z" fill="none" stroke="#3b7cc6" stroke-width="1.6"/>
<path d="M107.52 273.92L111.02 278.62L107.52 283.32L104.02 278.62Z" fill="none" stroke="#3b7cc6" stroke-width="1.6"/>
<path d="M119.52 280.98L123.02 285.68L119.52 290.38L116.02 285.68Z" fill="none" stroke="#3b7cc6" stroke-width="1.6"/>
<path d="M131.52 284.94L135.02 289.64L131.52 294.34L128.02 289.64Z" fill="none" stroke="#3b7cc6" stroke-width="1.6"/>
<path d="M143.53 282.68L147.03 287.38L143.53 292.08L140.03 287.38Z" fill="none" stroke="#3b7cc6" stroke-width="1.6"/>
<path d="M155.53 277.31L159.03 282.01L155.53 286.71L152.03 282.01Z" fill="none" stroke="#3b7cc6" stroke-width="1.6"/>
<path d="M167.54 271.66L171.04 276.36L167.54 281.06L164.04 276.36Z" fill="none" stroke="#3b7cc6" stroke-width="1.6"/>
<path d="M179.54 277.62L183.04 282.32L179.54 287.02L176.04 282.32Z" fill="none" stroke="#3b7cc6" stroke-width="1.6"/>
<path d="M191.54 282.20L195.04 286.90L191.54 291.60L188.04 286.90Z" fill="none" stroke="#3b7cc6" stroke-width="1.6"/>
<path d="M203.55 283.51L207.05 288.21L203.55 292.91L200.05 288.21Z" fill="none" stroke="#3b7cc6" stroke-width="1.6"/>
<path d="M215.55 282.32L219.05 287.02L215.55 291.72L212.05 287.02Z" fill="none" stroke="#3b7cc6" stroke-width="1.6"/>
<path d="M227.56 280.99L231.06 285.69L227.56 290.39L224.06 285.69Z" fill="none" stroke="#3b7cc6" stroke-width="1.6"/>
<path d="M239.56 282.39L243.06 287.09L239.56 291.79L236.06 287.09Z" fill="none" stroke="#3b7cc6" stroke-width="1.6"/>
<path d="M251.56 284.09L255.06 288.79L251.56 293.49L248.06 288.79Z" fill="none" stroke="#3b7cc6" stroke-width="1.6"/>
<path d="M263.57 284.60L267.07 289.30L263.57 294.00L260.07 289.30Z" fill="none" stroke="#3b7cc6" stroke-width="1.6"/>
<path d="M275.57 284.05L279.07 288.75L275.57 293.45L272.07 288.75Z" fill="none" stroke="#3b7cc6" stroke-width="1.6"/>
<path d="M287.58 283.24L291.08 287.94L287.58 292.64L284.08 287.94Z" fill="none" stroke="#3b7cc6" stroke-width="1.6"/>
<path d="M299.58 283.24L303.08 287.94L299.58 292.64L296.08 287.94Z" fill="none" stroke="#3b7cc6" stroke-width="1.6"/>
<path d="M311.58 283.81L315.08 288.51L311.58 293.21L308.08 288.51Z" fill="none" stroke="#3b7cc6" stroke-width="1.6"/>
<path d="M323.59 284.37L327.09 289.07L323.59 293.77L320.09 289.07Z" fill="none" stroke="#3b7cc6" stroke-width="1.6"/>
<path d="M335.59 283.75L339.09 288.45L335.59 293.15L332.09 288.45Z" fill="none" stroke="#3b7cc6" stroke-width="1.6"/>
<path d="M347.60 281.74L351.10 286.44L347.60 291.14L344.10 286.44Z" fill="none" stroke="#3b7cc6" stroke-width="1.6"/>
<path d="M359.60 280.13L363.10 284.83L359.60 289.53L356.10 284.83Z" fill="none" stroke="#3b7cc6" stroke-width="1.6"/>
<path d="M371.60 280.13L375.10 284.83L371.60 289.53L368.10 284.83Z" fill="none" stroke="#3b7cc6" stroke-width="1.6"/>
<path d="M383.61 282.62L387.11 287.32L383.61 292.02L380.11 287.32Z" fill="none" stroke="#3b7cc6" stroke-width="1.6"/>
<path d="M395.61 284.68L399.11 289.38L395.61 294.08L392.11 289.38Z" fill="none" stroke="#3b7cc6" stroke-width="1.6"/>
<path d="M407.62 284.92L411.12 289.62L407.62 294.32L404.12 289.62Z" fill="none" stroke="#3b7cc6" stroke-width="1.6"/>
<path d="M419.62 282.68L423.12 287.38L419.62 292.08L416.12 287.38Z" fill="none" stroke="#3b7cc6" stroke-width="1.6"/>
<path d="M431.62 280.98L435.12 285.68L431.62 290.38L428.12 285.68Z" fill="none" stroke="#3b7cc6" stroke-width="1.6"/>
<path d="M443.63 280.80L447.13 285.50L443.63 290.20L440.13 285.50Z" fill="none" stroke="#3b7cc6" stroke-width="1.6"/>
<path d="M455.63 281.89L459.13 286.59L455.63 291.29L452.13 286.59Z" fill="none" stroke="#3b7cc6" stroke-width="1.6"/>
<path d="M467.64 283.58L471.14 288.28L467.64 292.98L464.14 288.28Z" fill="none" stroke="#3b7cc6" stroke-width="1.6"/>
<path d="M479.64 284.37L483.14 289.07L479.64 293.77L476.14 289.07Z" fill="none" stroke="#3b7cc6" stroke-width="1.6"/>
<path d="M491.64 284.65L495.14 289.35L491.64 294.05L488.14 289.35Z" fill="none" stroke="#3b7cc6" stroke-width="1.6"/>
<path d="M503.65 284.94L507.15 289.64L503.65 294.34L500.15 289.64Z" fill="none" stroke="#3b7cc6" stroke-width="1.6"/>
<path d="M515.65 284.94L519.15 289.64L515.65 294.34L512.15 289.64Z" fill="none" stroke="#3b7cc6" stroke-width="1.6"/>
<path d="M527.66 284.94L531.16 289.64L527.66 294.34L524.16 289.64Z" fill="none" stroke="#3b7cc6" stroke-width="1.6"/>
<path d="M539.66 284.94L543.16 289.64L539.66 294.34L536.16 289.64Z" fill="none" stroke="#3b7cc6" stroke-width="1.6"/>
<path d="M551.66 284.65L555.16 289.35L551.66 294.05L548.16 289.35Z" fill="none" stroke="#3b7cc6" stroke-width="1.6"/>
<path d="M563.67 283.81L567.17 288.51L563.67 293.21L560.17 288.51Z" fill="none" stroke="#3b7cc6" stroke-width="1.6"/>
<path d="M575.67 280.70L579.17 285.40L575.67 290.10L572.17 285.40Z" fill="none" stroke="#3b7cc6" stroke-width="1.6"/>
<path d="M587.68 272.23L591.18 276.93L587.68 281.63L584.18 276.93Z" fill="none" stroke="#3b7cc6" stroke-width="1.6"/>
<path d="M599.68 266.30L603.18 271.00L599.68 275.70L596.18 271.00Z" fill="none" stroke="#3b7cc6" stroke-width="1.6"/>
<path d="M611.68 267.43L615.18 272.13L611.68 276.83L608.18 272.13Z" fill="none" stroke="#3b7cc6" stroke-width="1.6"/>
<path d="M623.69 274.49L627.19 279.19L623.69 283.89L620.19 279.19Z" fill="none" stroke="#3b7cc6" stroke-width="1.6"/>
<path d="M635.69 283.81L639.19 288.51L635.69 293.21L632.19 288.51Z" fill="none" stroke="#3b7cc6" stroke-width="1.6"/>
<path d="M647.70 279.85L651.20 284.55L647.70 289.25L644.20 284.55Z" fill="none" stroke="#3b7cc6" stroke-width="1.6"/>
<path d="M659.70 260.37L663.20 265.07L659.70 269.77L656.20 265.07Z" fill="none" stroke="#3b7cc6" stroke-width="1.6"/>
<text x="59.50" y="314.6" font-size="18" text-anchor="middle">200</text>
<text x="119.52" y="314.6" font-size="18" text-anchor="middle">300</text>
<text x="179.54" y="314.6" font-size="18" text-anchor="middle">400</text>
<text x="239.56" y="314.6" font-size="18" text-anchor="middle">500</text>
<text x="299.58" y="314.6" font-size="18" text-anchor="middle">600</text>
<text x="359.60" y="314.6" font-size="18" text-anchor="middle">700</text>
<text x="419.62" y="314.6" font-size="18" text-anchor="middle">800</text>
<text x="479.64" y="314.6" font-size="18" text-anchor="middle">900</text>
<text x="539.66" y="314.6" font-size="18" text-anchor="middle">1000</text>
<text x="599.68" y="314.6" font-size="18" text-anchor="middle">1100</text>
<text x="659.70" y="314.6" font-size="18" text-anchor="middle">1200</text>
<text x="53.7" y="297.70" font-size="18" text-anchor="end">0</text>
<text x="53.7" y="241.22" font-size="18" text-anchor="end">0.2</text>
<text x="53.7" y="184.74" font-size="18" text-anchor="end">0.4</text>
<text x="53.7" y="128.26" font-size="18" text-anchor="end">0.6</text>
<text x="53.7" y="71.78" font-size="18" text-anchor="end">0.8</text>
<text x="53.7" y="15.30" font-size="18" text-anchor="end">1</text>
<text x="75.4" y="41.0" font-size="24" transform="translate(75.6 0) scale(0.944 1) translate(-75.6 0)" style="fill:#000">(a)</text>
<text transform="translate(19.9 191.0) rotate(-90) scale(1.0 1)" x="0" y="0" text-anchor="middle" font-size="22" style="font-family:'Liberation Serif',serif;fill:#262626;font-style:italic;">α</text>
<text transform="translate(19.9 182.3) rotate(-90) scale(1.0 1)" x="0" y="0" text-anchor="middle" font-size="21" style="font-family:'Liberation Serif',serif;fill:#262626;">,</text>
<text transform="translate(19.9 162.8) rotate(-90) scale(1.2 1)" x="0" y="0" text-anchor="middle" font-size="21.5" style="font-family:'Liberation Serif',serif;fill:#262626;font-style:italic;">T</text>
<text transform="translate(12.3 148.1) rotate(-90) scale(1.0 1)" x="0" y="0" text-anchor="middle" font-size="13" style="font-family:'Liberation Serif',serif;fill:#262626;">2</text>
<text transform="translate(19.9 140.3) rotate(-90) scale(1.0 1)" x="0" y="0" text-anchor="middle" font-size="21" style="font-family:'Liberation Serif',serif;fill:#262626;">,</text>
<text transform="translate(20.3 122.0) rotate(-90) scale(1.0 1)" x="0" y="0" text-anchor="middle" font-size="21" style="font-family:'Liberation Serif',serif;fill:#262626;font-style:italic;">R</text>
<text transform="translate(12.6 105.4) rotate(-90) scale(1.0 1)" x="0" y="0" text-anchor="middle" font-size="13" style="font-family:'Liberation Serif',serif;fill:#262626;">2</text>
<line x1="5.3" y1="111.2" x2="24.4" y2="111.2" stroke="#262626" stroke-width="0.9"/>
<line x1="5.3" y1="131.8" x2="24.4" y2="131.8" stroke="#262626" stroke-width="0.9"/>
<line x1="5.3" y1="153.3" x2="24.4" y2="153.3" stroke="#262626" stroke-width="0.9"/>
<line x1="5.3" y1="173.6" x2="24.4" y2="173.6" stroke="#262626" stroke-width="0.9"/>
<text x="359.5" y="338.9" font-size="19.8" text-anchor="middle">Frequency (Hz)</text>
<rect x="437.9" y="90" width="215.2" height="70" fill="#fff" stroke="#a8a8a8" stroke-width="1"/>
<line x1="440.4" y1="100.5" x2="464.8" y2="100.5" stroke="#f5201a" stroke-width="4.6"/>
<line x1="440.4" y1="122.8" x2="464.8" y2="122.8" stroke="#000" stroke-width="4.6"/>
<line x1="440.4" y1="147.4" x2="464.8" y2="147.4" stroke="#3b7cc6" stroke-width="4.6"/>
<circle cx="560.6" cy="100.6" r="3.1" fill="none" stroke="#f5201a" stroke-width="1.6"/>
<rect x="558" y="120.3" width="5.2" height="5.2" fill="none" stroke="#000" stroke-width="1.5"/>
<path d="M560.6 142.8L564.1 147.5L560.6 152.2L557.1 147.5Z" fill="none" stroke="#3b7cc6" stroke-width="1.6"/>
<text x="466.5" y="106.8" font-size="16.3"><tspan style="font-family:'Liberation Serif',serif;font-style:italic" font-size="17">α</tspan> (EMA)</text>
<text x="466.5" y="131.3" font-size="16.3">|T|<tspan font-size="11.5" dy="-8.6">2</tspan><tspan dy="8.6"> (EMA)</tspan></text>
<text x="466.5" y="155.2" font-size="16.3">|R|<tspan font-size="11.5" dy="-8.6">2</tspan><tspan dy="8.6"> (EMA)</tspan></text>
<text x="575.0" y="106.8" font-size="16.3"><tspan style="font-family:'Liberation Serif',serif;font-style:italic" font-size="17">α</tspan> (FEM)</text>
<text x="575.0" y="131.3" font-size="16.3">|T|<tspan font-size="11.5" dy="-8.6">2</tspan><tspan dy="8.6"> (FEM)</tspan></text>
<text x="575.0" y="155.2" font-size="16.3">|R|<tspan font-size="11.5" dy="-8.6">2</tspan><tspan dy="8.6"> (FEM)</tspan></text>
<line x1="52.00" y1="667.7" x2="52.00" y2="661.7" stroke="#8c8c8c" stroke-width="1"/>
<line x1="52.00" y1="380.8" x2="52.00" y2="386.8" stroke="#8c8c8c" stroke-width="1"/>
<line x1="113.04" y1="667.7" x2="113.04" y2="661.7" stroke="#8c8c8c" stroke-width="1"/>
<line x1="113.04" y1="380.8" x2="113.04" y2="386.8" stroke="#8c8c8c" stroke-width="1"/>
<line x1="174.08" y1="667.7" x2="174.08" y2="661.7" stroke="#8c8c8c" stroke-width="1"/>
<line x1="174.08" y1="380.8" x2="174.08" y2="386.8" stroke="#8c8c8c" stroke-width="1"/>
<line x1="235.12" y1="667.7" x2="235.12" y2="661.7" stroke="#8c8c8c" stroke-width="1"/>
<line x1="235.12" y1="380.8" x2="235.12" y2="386.8" stroke="#8c8c8c" stroke-width="1"/>
<line x1="296.16" y1="667.7" x2="296.16" y2="661.7" stroke="#8c8c8c" stroke-width="1"/>
<line x1="296.16" y1="380.8" x2="296.16" y2="386.8" stroke="#8c8c8c" stroke-width="1"/>
<line x1="357.20" y1="667.7" x2="357.20" y2="661.7" stroke="#8c8c8c" stroke-width="1"/>
<line x1="357.20" y1="380.8" x2="357.20" y2="386.8" stroke="#8c8c8c" stroke-width="1"/>
<line x1="418.24" y1="667.7" x2="418.24" y2="661.7" stroke="#8c8c8c" stroke-width="1"/>
<line x1="418.24" y1="380.8" x2="418.24" y2="386.8" stroke="#8c8c8c" stroke-width="1"/>
<line x1="479.28" y1="667.7" x2="479.28" y2="661.7" stroke="#8c8c8c" stroke-width="1"/>
<line x1="479.28" y1="380.8" x2="479.28" y2="386.8" stroke="#8c8c8c" stroke-width="1"/>
<line x1="540.32" y1="667.7" x2="540.32" y2="661.7" stroke="#8c8c8c" stroke-width="1"/>
<line x1="540.32" y1="380.8" x2="540.32" y2="386.8" stroke="#8c8c8c" stroke-width="1"/>
<line x1="601.36" y1="667.7" x2="601.36" y2="661.7" stroke="#8c8c8c" stroke-width="1"/>
<line x1="601.36" y1="380.8" x2="601.36" y2="386.8" stroke="#8c8c8c" stroke-width="1"/>
<line x1="662.40" y1="667.7" x2="662.40" y2="661.7" stroke="#8c8c8c" stroke-width="1"/>
<line x1="662.40" y1="380.8" x2="662.40" y2="386.8" stroke="#8c8c8c" stroke-width="1"/>
<line x1="52.0" y1="667.70" x2="58.0" y2="667.70" stroke="#8c8c8c" stroke-width="1"/>
<line x1="662.4" y1="667.70" x2="656.4" y2="667.70" stroke="#8c8c8c" stroke-width="1"/>
<line x1="52.0" y1="610.32" x2="58.0" y2="610.32" stroke="#8c8c8c" stroke-width="1"/>
<line x1="662.4" y1="610.32" x2="656.4" y2="610.32" stroke="#8c8c8c" stroke-width="1"/>
<line x1="52.0" y1="552.94" x2="58.0" y2="552.94" stroke="#8c8c8c" stroke-width="1"/>
<line x1="662.4" y1="552.94" x2="656.4" y2="552.94" stroke="#8c8c8c" stroke-width="1"/>
<line x1="52.0" y1="495.56" x2="58.0" y2="495.56" stroke="#8c8c8c" stroke-width="1"/>
<line x1="662.4" y1="495.56" x2="656.4" y2="495.56" stroke="#8c8c8c" stroke-width="1"/>
<line x1="52.0" y1="438.18" x2="58.0" y2="438.18" stroke="#8c8c8c" stroke-width="1"/>
<line x1="662.4" y1="438.18" x2="656.4" y2="438.18" stroke="#8c8c8c" stroke-width="1"/>
<line x1="52.0" y1="380.80" x2="58.0" y2="380.80" stroke="#8c8c8c" stroke-width="1"/>
<line x1="662.4" y1="380.80" x2="656.4" y2="380.80" stroke="#8c8c8c" stroke-width="1"/>
<rect x="52.0" y="380.8" width="610.40" height="286.90" fill="none" stroke="#8c8c8c" stroke-width="1"/>
<g fill="none" stroke-linejoin="round">
<path d="M52.00 666.39L54.04 666.34L56.08 666.30L58.12 666.26L60.17 666.22L62.21 666.18L64.25 666.14L66.29 666.11L68.33 666.07L70.37 666.04L72.41 666.01L74.46 665.97L76.50 665.94L78.54 665.91L80.58 665.88L82.62 665.85L84.66 665.82L86.71 665.80L88.75 665.77L90.79 665.74L92.83 665.71L94.87 665.69L96.91 665.66L98.95 665.63L101.00 665.61L103.04 665.58L105.08 665.55L107.12 665.53L109.16 665.50L111.20 665.47L113.24 665.45L115.29 665.42L117.33 665.39L119.37 665.36L121.41 665.33L123.45 665.30L125.49 665.27L127.53 665.24L129.58 665.21L131.62 665.18L133.66 665.15L135.70 665.11L137.74 665.08L139.78 665.04L141.82 665.00L143.87 664.96L145.91 664.92L147.95 664.88L149.99 664.84L152.03 664.80L154.07 664.75L156.12 664.70L158.16 664.65L160.20 664.60L162.24 664.55L164.28 664.50L166.32 664.44L168.36 664.38L170.41 664.32L172.45 664.26L174.49 664.20L176.53 664.13L178.57 664.06L180.61 663.99L182.65 663.92L184.70 663.84L186.74 663.77L188.78 663.68L190.82 663.60L192.86 663.52L194.90 663.43L196.94 663.34L198.99 663.24L201.03 663.15L203.07 663.05L205.11 662.94L207.15 662.84L209.19 662.73L211.23 662.61L213.28 662.50L215.32 662.38L217.36 662.26L219.40 662.13L221.44 662.00L223.48 661.87L225.53 661.73L227.57 661.59L229.61 661.45L231.65 661.30L233.69 661.15L235.73 660.99L237.77 660.83L239.82 660.67L241.86 660.50L243.90 660.33L245.94 660.15L247.98 659.97L250.02 659.79L252.06 659.60L254.11 659.41L256.15 659.21L258.19 659.00L260.23 658.80L262.27 658.58L264.31 658.37L266.35 658.15L268.40 657.92L270.44 657.69L272.48 657.45L274.52 657.21L276.56 656.96L278.60 656.71L280.64 656.45L282.69 656.19L284.73 655.92L286.77 655.64L288.81 655.37L290.85 655.08L292.89 654.79L294.94 654.49L296.98 654.19L299.02 653.88L301.06 653.57L303.10 653.25L305.14 652.92L307.18 652.59L309.23 652.25L311.27 651.91L313.31 651.56L315.35 651.20L317.39 650.84L319.43 650.47L321.47 650.09L323.52 649.71L325.56 649.32L327.60 648.93L329.64 648.52L331.68 648.12L333.72 647.70L335.76 647.28L337.81 646.84L339.85 646.40L341.89 645.95L343.93 645.49L345.97 645.02L348.01 644.53L350.05 644.02L352.10 643.50L354.14 642.95L356.18 642.39L358.22 641.81L360.26 641.20L362.30 640.57L364.35 639.91L366.39 639.23L368.43 638.52L370.47 637.78L372.51 637.00L374.55 636.20L376.59 635.36L378.64 634.48L380.68 633.57L382.72 632.62L384.76 631.63L386.80 630.60L388.84 629.53L390.88 628.42L392.93 627.26L394.97 626.05L397.01 624.80L399.05 623.50L401.09 622.17L403.13 620.79L405.17 619.38L407.22 617.94L409.26 616.46L411.30 614.96L413.34 613.43L415.38 611.87L417.42 610.29L419.46 608.70L421.51 607.08L423.55 605.45L425.59 603.81L427.63 602.16L429.67 600.50L431.71 598.84L433.76 597.17L435.80 595.50L437.84 593.84L439.88 592.17L441.92 590.52L443.96 588.87L446.00 587.24L448.05 585.63L450.09 584.03L452.13 582.46L454.17 580.91L456.21 579.39L458.25 577.91L460.29 576.46L462.34 575.05L464.38 573.67L466.42 572.35L468.46 571.07L470.50 569.84L472.54 568.67L474.58 567.55L476.63 566.49L478.67 565.50L480.71 564.57L482.75 563.72L484.79 562.93L486.83 562.22L488.87 561.59L490.92 561.05L492.96 560.58L495.00 560.21L497.04 559.93L499.08 559.73L501.12 559.63L503.17 559.61L505.21 559.67L507.25 559.81L509.29 560.03L511.33 560.33L513.37 560.70L515.41 561.14L517.46 561.65L519.50 562.23L521.54 562.86L523.58 563.56L525.62 564.32L527.66 565.13L529.70 566.00L531.75 566.92L533.79 567.89L535.83 568.90L537.87 569.96L539.91 571.06L541.95 572.19L543.99 573.36L546.04 574.56L548.08 575.78L550.12 577.03L552.16 578.29L554.20 579.58L556.24 580.87L558.28 582.18L560.33 583.49L562.37 584.81L564.41 586.13L566.45 587.44L568.49 588.75L570.53 590.05L572.58 591.34L574.62 592.60L576.66 593.85L578.70 595.08L580.74 596.29L582.78 597.47L584.82 598.63L586.87 599.77L588.91 600.88L590.95 601.98L592.99 603.05L595.03 604.11L597.07 605.14L599.11 606.15L601.16 607.15L603.20 608.13L605.24 609.09L607.28 610.03L609.32 610.95L611.36 611.85L613.40 612.74L615.45 613.61L617.49 614.47L619.53 615.31L621.57 616.14L623.61 616.95L625.65 617.74L627.69 618.52L629.74 619.29L631.78 620.04L633.82 620.79L635.86 621.51L637.90 622.23L639.94 622.93L641.99 623.63L644.03 624.31L646.07 624.98L648.11 625.64L650.15 626.29L652.19 626.93L654.23 627.56L656.28 628.19L658.32 628.80L660.36 629.41L662.40 630.01" stroke="#f21d14" stroke-width="3"/>
<path d="M52.00 666.40L54.04 666.35L56.08 666.31L58.12 666.27L60.17 666.23L62.21 666.19L64.25 666.15L66.29 666.11L68.33 666.08L70.37 666.04L72.41 666.01L74.46 665.98L76.50 665.94L78.54 665.91L80.58 665.88L82.62 665.85L84.66 665.82L86.71 665.79L88.75 665.76L90.79 665.74L92.83 665.71L94.87 665.68L96.91 665.65L98.95 665.63L101.00 665.60L103.04 665.57L105.08 665.54L107.12 665.52L109.16 665.49L111.20 665.46L113.24 665.43L115.29 665.41L117.33 665.38L119.37 665.35L121.41 665.32L123.45 665.29L125.49 665.26L127.53 665.23L129.58 665.19L131.62 665.16L133.66 665.13L135.70 665.09L137.74 665.06L139.78 665.02L141.82 664.98L143.87 664.94L145.91 664.90L147.95 664.86L149.99 664.82L152.03 664.77L154.07 664.73L156.12 664.68L158.16 664.63L160.20 664.58L162.24 664.53L164.28 664.47L166.32 664.42L168.36 664.36L170.41 664.30L172.45 664.24L174.49 664.17L176.53 664.11L178.57 664.04L180.61 663.97L182.65 663.90L184.70 663.82L186.74 663.74L188.78 663.66L190.82 663.58L192.86 663.50L194.90 663.41L196.94 663.32L198.99 663.23L201.03 663.13L203.07 663.03L205.11 662.93L207.15 662.82L209.19 662.72L211.23 662.60L213.28 662.49L215.32 662.37L217.36 662.25L219.40 662.13L221.44 662.00L223.48 661.87L225.53 661.73L227.57 661.60L229.61 661.45L231.65 661.31L233.69 661.16L235.73 661.00L237.77 660.85L239.82 660.69L241.86 660.52L243.90 660.35L245.94 660.18L247.98 660.00L250.02 659.82L252.06 659.63L254.11 659.44L256.15 659.24L258.19 659.04L260.23 658.84L262.27 658.63L264.31 658.42L266.35 658.20L268.40 657.98L270.44 657.75L272.48 657.51L274.52 657.28L276.56 657.03L278.60 656.79L280.64 656.53L282.69 656.27L284.73 656.01L286.77 655.74L288.81 655.47L290.85 655.19L292.89 654.90L294.94 654.61L296.98 654.31L299.02 654.01L301.06 653.70L303.10 653.39L305.14 653.07L307.18 652.74L309.23 652.41L311.27 652.07L313.31 651.73L315.35 651.38L317.39 651.02L319.43 650.66L321.47 650.29L323.52 649.91L325.56 649.53L327.60 649.14L329.64 648.74L331.68 648.34L333.72 647.93L335.76 647.52L337.81 647.09L339.85 646.66L341.89 646.22L343.93 645.77L345.97 645.30L348.01 644.82L350.05 644.32L352.10 643.81L354.14 643.28L356.18 642.73L358.22 642.16L360.26 641.57L362.30 640.96L364.35 640.32L366.39 639.65L368.43 638.96L370.47 638.24L372.51 637.49L374.55 636.71L376.59 635.90L378.64 635.05L380.68 634.17L382.72 633.25L384.76 632.30L386.80 631.30L388.84 630.27L390.88 629.20L392.93 628.08L394.97 626.92L397.01 625.71L399.05 624.47L401.09 623.19L403.13 621.87L405.17 620.51L407.22 619.13L409.26 617.71L411.30 616.27L413.34 614.80L415.38 613.32L417.42 611.81L419.46 610.28L421.51 608.74L423.55 607.18L425.59 605.62L427.63 604.04L429.67 602.46L431.71 600.87L433.76 599.29L435.80 597.70L437.84 596.12L439.88 594.54L441.92 592.97L443.96 591.41L446.00 589.86L448.05 588.33L450.09 586.82L452.13 585.33L454.17 583.87L456.21 582.43L458.25 581.03L460.29 579.66L462.34 578.32L464.38 577.03L466.42 575.77L468.46 574.56L470.50 573.40L472.54 572.29L474.58 571.24L476.63 570.24L478.67 569.30L480.71 568.42L482.75 567.61L484.79 566.86L486.83 566.18L488.87 565.58L490.92 565.06L492.96 564.61L495.00 564.25L497.04 563.97L499.08 563.77L501.12 563.66L503.17 563.62L505.21 563.67L507.25 563.78L509.29 563.97L511.33 564.23L513.37 564.56L515.41 564.96L517.46 565.41L519.50 565.93L521.54 566.51L523.58 567.15L525.62 567.84L527.66 568.58L529.70 569.38L531.75 570.22L533.79 571.11L535.83 572.04L537.87 573.02L539.91 574.03L541.95 575.07L543.99 576.15L546.04 577.26L548.08 578.39L550.12 579.54L552.16 580.71L554.20 581.90L556.24 583.11L558.28 584.32L560.33 585.54L562.37 586.77L564.41 588.00L566.45 589.22L568.49 590.44L570.53 591.66L572.58 592.86L574.62 594.05L576.66 595.22L578.70 596.37L580.74 597.51L582.78 598.62L584.82 599.72L586.87 600.79L588.91 601.85L590.95 602.89L592.99 603.91L595.03 604.91L597.07 605.89L599.11 606.86L601.16 607.81L603.20 608.75L605.24 609.66L607.28 610.57L609.32 611.45L611.36 612.33L613.40 613.18L615.45 614.02L617.49 614.85L619.53 615.67L621.57 616.47L623.61 617.25L625.65 618.03L627.69 618.79L629.74 619.53L631.78 620.27L633.82 621.00L635.86 621.71L637.90 622.41L639.94 623.10L641.99 623.78L644.03 624.45L646.07 625.11L648.11 625.76L650.15 626.40L652.19 627.04L654.23 627.66L656.28 628.27L658.32 628.88L660.36 629.48L662.40 630.07" stroke="#f21d14" stroke-width="2.8" stroke-dasharray="2.8 3.6"/>
<path d="M52.00 663.72L54.04 663.68L56.08 663.64L58.12 663.60L60.17 663.57L62.21 663.54L64.25 663.51L66.29 663.48L68.33 663.45L70.37 663.42L72.41 663.40L74.46 663.37L76.50 663.35L78.54 663.33L80.58 663.30L82.62 663.28L84.66 663.26L86.71 663.24L88.75 663.22L90.79 663.20L92.83 663.19L94.87 663.17L96.91 663.15L98.95 663.13L101.00 663.11L103.04 663.10L105.08 663.08L107.12 663.06L109.16 663.04L111.20 663.02L113.24 663.00L115.29 662.98L117.33 662.96L119.37 662.94L121.41 662.92L123.45 662.89L125.49 662.87L127.53 662.84L129.58 662.82L131.62 662.79L133.66 662.76L135.70 662.73L137.74 662.70L139.78 662.67L141.82 662.63L143.87 662.59L145.91 662.55L147.95 662.51L149.99 662.47L152.03 662.43L154.07 662.38L156.12 662.33L158.16 662.28L160.20 662.23L162.24 662.17L164.28 662.11L166.32 662.05L168.36 661.99L170.41 661.92L172.45 661.85L174.49 661.78L176.53 661.70L178.57 661.62L180.61 661.54L182.65 661.46L184.70 661.37L186.74 661.28L188.78 661.18L190.82 661.08L192.86 660.98L194.90 660.87L196.94 660.76L198.99 660.65L201.03 660.53L203.07 660.41L205.11 660.28L207.15 660.15L209.19 660.01L211.23 659.87L213.28 659.73L215.32 659.58L217.36 659.43L219.40 659.27L221.44 659.10L223.48 658.93L225.53 658.76L227.57 658.58L229.61 658.40L231.65 658.21L233.69 658.02L235.73 657.82L237.77 657.61L239.82 657.40L241.86 657.18L243.90 656.96L245.94 656.73L247.98 656.50L250.02 656.25L252.06 656.00L254.11 655.75L256.15 655.48L258.19 655.21L260.23 654.93L262.27 654.64L264.31 654.34L266.35 654.03L268.40 653.72L270.44 653.39L272.48 653.05L274.52 652.71L276.56 652.35L278.60 651.98L280.64 651.60L282.69 651.21L284.73 650.80L286.77 650.39L288.81 649.96L290.85 649.52L292.89 649.07L294.94 648.60L296.98 648.12L299.02 647.63L301.06 647.12L303.10 646.60L305.14 646.06L307.18 645.51L309.23 644.94L311.27 644.36L313.31 643.76L315.35 643.14L317.39 642.51L319.43 641.86L321.47 641.20L323.52 640.51L325.56 639.81L327.60 639.10L329.64 638.36L331.68 637.60L333.72 636.83L335.76 636.04L337.81 635.22L339.85 634.39L341.89 633.52L343.93 632.63L345.97 631.70L348.01 630.74L350.05 629.74L352.10 628.71L354.14 627.62L356.18 626.50L358.22 625.32L360.26 624.09L362.30 622.81L364.35 621.46L366.39 620.06L368.43 618.60L370.47 617.07L372.51 615.47L374.55 613.79L376.59 612.05L378.64 610.22L380.68 608.32L382.72 606.33L384.76 604.26L386.80 602.10L388.84 599.86L390.88 597.53L392.93 595.14L394.97 592.68L397.01 590.17L399.05 587.60L401.09 584.99L403.13 582.34L405.17 579.66L407.22 576.96L409.26 574.23L411.30 571.50L413.34 568.77L415.38 566.03L417.42 563.31L419.46 560.60L421.51 557.91L423.55 555.25L425.59 552.63L427.63 550.05L429.67 547.52L431.71 545.05L433.76 542.64L435.80 540.30L437.84 538.06L439.88 535.91L441.92 533.87L443.96 531.95L446.00 530.16L448.05 528.51L450.09 527.02L452.13 525.70L454.17 524.55L456.21 523.59L458.25 522.84L460.29 522.29L462.34 521.96L464.38 521.86L466.42 521.97L468.46 522.27L470.50 522.76L472.54 523.43L474.58 524.25L476.63 525.23L478.67 526.35L480.71 527.60L482.75 528.96L484.79 530.43L486.83 532.01L488.87 533.67L490.92 535.43L492.96 537.26L495.00 539.16L497.04 541.12L499.08 543.14L501.12 545.20L503.17 547.30L505.21 549.44L507.25 551.60L509.29 553.77L511.33 555.95L513.37 558.13L515.41 560.31L517.46 562.46L519.50 564.60L521.54 566.70L523.58 568.77L525.62 570.79L527.66 572.75L529.70 574.67L531.75 576.52L533.79 578.33L535.83 580.09L537.87 581.79L539.91 583.45L541.95 585.06L543.99 586.63L546.04 588.15L548.08 589.63L550.12 591.06L552.16 592.46L554.20 593.81L556.24 595.13L558.28 596.41L560.33 597.65L562.37 598.86L564.41 600.04L566.45 601.18L568.49 602.30L570.53 603.38L572.58 604.44L574.62 605.47L576.66 606.47L578.70 607.45L580.74 608.41L582.78 609.34L584.82 610.26L586.87 611.16L588.91 612.03L590.95 612.90L592.99 613.74L595.03 614.57L597.07 615.39L599.11 616.19L601.16 616.98L603.20 617.76L605.24 618.52L607.28 619.27L609.32 620.01L611.36 620.73L613.40 621.45L615.45 622.16L617.49 622.85L619.53 623.54L621.57 624.22L623.61 624.89L625.65 625.55L627.69 626.21L629.74 626.86L631.78 627.50L633.82 628.14L635.86 628.77L637.90 629.40L639.94 630.02L641.99 630.64L644.03 631.26L646.07 631.87L648.11 632.48L650.15 633.09L652.19 633.70L654.23 634.31L656.28 634.92L658.32 635.53L660.36 636.14L662.40 636.75" stroke="#dba43a" stroke-width="3"/>
<path d="M52.00 664.04L54.04 663.91L56.08 663.78L58.12 663.66L60.17 663.55L62.21 663.45L64.25 663.35L66.29 663.25L68.33 663.16L70.37 663.08L72.41 663.00L74.46 662.92L76.50 662.85L78.54 662.79L80.58 662.72L82.62 662.67L84.66 662.61L86.71 662.56L88.75 662.52L90.79 662.47L92.83 662.43L94.87 662.40L96.91 662.36L98.95 662.33L101.00 662.30L103.04 662.28L105.08 662.25L107.12 662.23L109.16 662.21L111.20 662.20L113.24 662.18L115.29 662.17L117.33 662.15L119.37 662.14L121.41 662.13L123.45 662.12L125.49 662.11L127.53 662.10L129.58 662.09L131.62 662.09L133.66 662.08L135.70 662.07L137.74 662.06L139.78 662.05L141.82 662.04L143.87 662.03L145.91 662.02L147.95 662.01L149.99 661.99L152.03 661.98L154.07 661.96L156.12 661.94L158.16 661.92L160.20 661.90L162.24 661.87L164.28 661.85L166.32 661.82L168.36 661.78L170.41 661.75L172.45 661.71L174.49 661.67L176.53 661.62L178.57 661.58L180.61 661.52L182.65 661.47L184.70 661.41L186.74 661.34L188.78 661.27L190.82 661.20L192.86 661.12L194.90 661.04L196.94 660.95L198.99 660.86L201.03 660.76L203.07 660.66L205.11 660.55L207.15 660.43L209.19 660.31L211.23 660.19L213.28 660.05L215.32 659.91L217.36 659.77L219.40 659.61L221.44 659.45L223.48 659.29L225.53 659.11L227.57 658.93L229.61 658.74L231.65 658.54L233.69 658.34L235.73 658.12L237.77 657.90L239.82 657.67L241.86 657.43L243.90 657.19L245.94 656.93L247.98 656.67L250.02 656.39L252.06 656.11L254.11 655.82L256.15 655.51L258.19 655.20L260.23 654.88L262.27 654.54L264.31 654.20L266.35 653.85L268.40 653.48L270.44 653.11L272.48 652.72L274.52 652.32L276.56 651.91L278.60 651.49L280.64 651.06L282.69 650.62L284.73 650.16L286.77 649.69L288.81 649.21L290.85 648.72L292.89 648.22L294.94 647.70L296.98 647.17L299.02 646.62L301.06 646.07L303.10 645.50L305.14 644.91L307.18 644.31L309.23 643.70L311.27 643.08L313.31 642.44L315.35 641.78L317.39 641.11L319.43 640.43L321.47 639.73L323.52 639.02L325.56 638.29L327.60 637.54L329.64 636.78L331.68 636.01L333.72 635.22L335.76 634.41L337.81 633.58L339.85 632.74L341.89 631.87L343.93 630.97L345.97 630.04L348.01 629.08L350.05 628.09L352.10 627.06L354.14 625.98L356.18 624.86L358.22 623.69L360.26 622.48L362.30 621.20L364.35 619.88L366.39 618.49L368.43 617.04L370.47 615.52L372.51 613.94L374.55 612.28L376.59 610.55L378.64 608.74L380.68 606.85L382.72 604.88L384.76 602.82L386.80 600.68L388.84 598.45L390.88 596.13L392.93 593.75L394.97 591.31L397.01 588.80L399.05 586.25L401.09 583.65L403.13 581.01L405.17 578.35L407.22 575.66L409.26 572.95L411.30 570.24L413.34 567.52L415.38 564.80L417.42 562.10L419.46 559.42L421.51 556.75L423.55 554.12L425.59 551.53L427.63 548.99L429.67 546.49L431.71 544.06L433.76 541.69L435.80 539.41L437.84 537.21L439.88 535.12L441.92 533.15L443.96 531.31L446.00 529.61L448.05 528.06L450.09 526.68L452.13 525.48L454.17 524.47L456.21 523.67L458.25 523.08L460.29 522.72L462.34 522.59L464.38 522.69L466.42 522.99L468.46 523.49L470.50 524.16L472.54 525.00L474.58 526.00L476.63 527.13L478.67 528.39L480.71 529.76L482.75 531.23L484.79 532.79L486.83 534.44L488.87 536.17L490.92 537.97L492.96 539.84L495.00 541.76L497.04 543.74L499.08 545.76L501.12 547.82L503.17 549.91L505.21 552.03L507.25 554.16L509.29 556.30L511.33 558.45L513.37 560.60L515.41 562.73L517.46 564.85L519.50 566.94L521.54 569.00L523.58 571.03L525.62 573.01L527.66 574.94L529.70 576.82L531.75 578.65L533.79 580.43L535.83 582.16L537.87 583.85L539.91 585.48L541.95 587.08L543.99 588.63L546.04 590.13L548.08 591.59L550.12 593.02L552.16 594.40L554.20 595.74L556.24 597.05L558.28 598.31L560.33 599.54L562.37 600.74L564.41 601.90L566.45 603.03L568.49 604.13L570.53 605.19L572.58 606.23L574.62 607.23L576.66 608.21L578.70 609.16L580.74 610.09L582.78 610.99L584.82 611.86L586.87 612.71L588.91 613.54L590.95 614.35L592.99 615.14L595.03 615.91L597.07 616.67L599.11 617.40L601.16 618.12L603.20 618.83L605.24 619.52L607.28 620.19L609.32 620.86L611.36 621.51L613.40 622.16L615.45 622.79L617.49 623.42L619.53 624.04L621.57 624.66L623.61 625.27L625.65 625.87L627.69 626.48L629.74 627.08L631.78 627.68L633.82 628.28L635.86 628.88L637.90 629.49L639.94 630.09L641.99 630.71L644.03 631.32L646.07 631.95L648.11 632.58L650.15 633.21L652.19 633.86L654.23 634.52L656.28 635.19L658.32 635.87L660.36 636.56L662.40 637.27" stroke="#dba43a" stroke-width="2.8" stroke-dasharray="2.8 3.6"/>
<path d="M52.00 659.89L54.04 659.84L56.08 659.78L58.12 659.73L60.17 659.68L62.21 659.63L64.25 659.57L66.29 659.52L68.33 659.46L70.37 659.41L72.41 659.35L74.46 659.29L76.50 659.23L78.54 659.17L80.58 659.11L82.62 659.05L84.66 658.98L86.71 658.92L88.75 658.85L90.79 658.78L92.83 658.72L94.87 658.64L96.91 658.57L98.95 658.50L101.00 658.42L103.04 658.34L105.08 658.26L107.12 658.18L109.16 658.10L111.20 658.01L113.24 657.92L115.29 657.83L117.33 657.74L119.37 657.64L121.41 657.55L123.45 657.45L125.49 657.34L127.53 657.24L129.58 657.13L131.62 657.02L133.66 656.91L135.70 656.79L137.74 656.68L139.78 656.55L141.82 656.43L143.87 656.30L145.91 656.17L147.95 656.04L149.99 655.90L152.03 655.76L154.07 655.62L156.12 655.47L158.16 655.32L160.20 655.17L162.24 655.01L164.28 654.85L166.32 654.68L168.36 654.51L170.41 654.34L172.45 654.16L174.49 653.98L176.53 653.80L178.57 653.61L180.61 653.42L182.65 653.22L184.70 653.02L186.74 652.81L188.78 652.60L190.82 652.39L192.86 652.17L194.90 651.95L196.94 651.72L198.99 651.49L201.03 651.25L203.07 651.01L205.11 650.76L207.15 650.51L209.19 650.25L211.23 649.99L213.28 649.72L215.32 649.45L217.36 649.17L219.40 648.89L221.44 648.60L223.48 648.30L225.53 648.00L227.57 647.70L229.61 647.39L231.65 647.07L233.69 646.75L235.73 646.42L237.77 646.09L239.82 645.75L241.86 645.41L243.90 645.05L245.94 644.70L247.98 644.33L250.02 643.96L252.06 643.58L254.11 643.20L256.15 642.81L258.19 642.41L260.23 642.00L262.27 641.57L264.31 641.14L266.35 640.69L268.40 640.22L270.44 639.73L272.48 639.22L274.52 638.69L276.56 638.13L278.60 637.55L280.64 636.93L282.69 636.29L284.73 635.62L286.77 634.91L288.81 634.17L290.85 633.39L292.89 632.57L294.94 631.71L296.98 630.83L299.02 629.91L301.06 628.97L303.10 628.01L305.14 627.03L307.18 626.02L309.23 625.01L311.27 623.98L313.31 622.94L315.35 621.90L317.39 620.85L319.43 619.79L321.47 618.73L323.52 617.66L325.56 616.57L327.60 615.48L329.64 614.37L331.68 613.24L333.72 612.10L335.76 610.94L337.81 609.77L339.85 608.57L341.89 607.35L343.93 606.11L345.97 604.84L348.01 603.55L350.05 602.23L352.10 600.88L354.14 599.50L356.18 598.09L358.22 596.65L360.26 595.18L362.30 593.66L364.35 592.12L366.39 590.53L368.43 588.90L370.47 587.24L372.51 585.53L374.55 583.77L376.59 581.98L378.64 580.13L380.68 578.24L382.72 576.30L384.76 574.32L386.80 572.31L388.84 570.26L390.88 568.18L392.93 566.08L394.97 563.97L397.01 561.84L399.05 559.70L401.09 557.56L403.13 555.42L405.17 553.29L407.22 551.17L409.26 549.07L411.30 546.99L413.34 544.93L415.38 542.90L417.42 540.91L419.46 538.96L421.51 537.06L423.55 535.20L425.59 533.41L427.63 531.69L429.67 530.03L431.71 528.45L433.76 526.95L435.80 525.55L437.84 524.23L439.88 523.02L441.92 521.91L443.96 520.92L446.00 520.04L448.05 519.29L450.09 518.66L452.13 518.16L454.17 517.78L456.21 517.53L458.25 517.40L460.29 517.39L462.34 517.52L464.38 517.76L466.42 518.13L468.46 518.63L470.50 519.25L472.54 519.99L474.58 520.85L476.63 521.81L478.67 522.87L480.71 524.03L482.75 525.27L484.79 526.59L486.83 527.98L488.87 529.43L490.92 530.94L492.96 532.49L495.00 534.08L497.04 535.70L499.08 537.35L501.12 539.01L503.17 540.69L505.21 542.36L507.25 544.04L509.29 545.70L511.33 547.35L513.37 548.97L515.41 550.57L517.46 552.15L519.50 553.71L521.54 555.24L523.58 556.75L525.62 558.25L527.66 559.72L529.70 561.17L531.75 562.60L533.79 564.01L535.83 565.40L537.87 566.77L539.91 568.12L541.95 569.45L543.99 570.76L546.04 572.05L548.08 573.32L550.12 574.58L552.16 575.81L554.20 577.03L556.24 578.23L558.28 579.41L560.33 580.57L562.37 581.72L564.41 582.85L566.45 583.96L568.49 585.06L570.53 586.14L572.58 587.20L574.62 588.25L576.66 589.28L578.70 590.30L580.74 591.30L582.78 592.28L584.82 593.25L586.87 594.21L588.91 595.15L590.95 596.07L592.99 596.99L595.03 597.89L597.07 598.77L599.11 599.64L601.16 600.50L603.20 601.34L605.24 602.18L607.28 603.00L609.32 603.80L611.36 604.60L613.40 605.38L615.45 606.15L617.49 606.91L619.53 607.66L621.57 608.40L623.61 609.13L625.65 609.84L627.69 610.55L629.74 611.24L631.78 611.93L633.82 612.60L635.86 613.27L637.90 613.93L639.94 614.57L641.99 615.21L644.03 615.84L646.07 616.46L648.11 617.07L650.15 617.68L652.19 618.28L654.23 618.87L656.28 619.45L658.32 620.02L660.36 620.59L662.40 621.15" stroke="#ecf33a" stroke-width="3"/>
<path d="M52.00 659.55L54.04 659.53L56.08 659.51L58.12 659.49L60.17 659.46L62.21 659.43L64.25 659.40L66.29 659.37L68.33 659.33L70.37 659.29L72.41 659.25L74.46 659.21L76.50 659.16L78.54 659.11L80.58 659.06L82.62 659.00L84.66 658.94L86.71 658.88L88.75 658.82L90.79 658.75L92.83 658.68L94.87 658.61L96.91 658.54L98.95 658.46L101.00 658.38L103.04 658.29L105.08 658.21L107.12 658.12L109.16 658.02L111.20 657.93L113.24 657.83L115.29 657.72L117.33 657.62L119.37 657.51L121.41 657.40L123.45 657.28L125.49 657.16L127.53 657.04L129.58 656.91L131.62 656.78L133.66 656.65L135.70 656.51L137.74 656.37L139.78 656.23L141.82 656.08L143.87 655.93L145.91 655.78L147.95 655.62L149.99 655.46L152.03 655.30L154.07 655.13L156.12 654.95L158.16 654.78L160.20 654.60L162.24 654.41L164.28 654.23L166.32 654.04L168.36 653.84L170.41 653.64L172.45 653.44L174.49 653.23L176.53 653.02L178.57 652.81L180.61 652.59L182.65 652.36L184.70 652.14L186.74 651.90L188.78 651.67L190.82 651.43L192.86 651.18L194.90 650.94L196.94 650.68L198.99 650.43L201.03 650.17L203.07 649.90L205.11 649.63L207.15 649.36L209.19 649.08L211.23 648.80L213.28 648.51L215.32 648.22L217.36 647.92L219.40 647.62L221.44 647.31L223.48 647.00L225.53 646.69L227.57 646.37L229.61 646.05L231.65 645.72L233.69 645.38L235.73 645.04L237.77 644.70L239.82 644.35L241.86 644.00L243.90 643.64L245.94 643.27L247.98 642.90L250.02 642.51L252.06 642.12L254.11 641.71L256.15 641.29L258.19 640.85L260.23 640.40L262.27 639.92L264.31 639.43L266.35 638.92L268.40 638.39L270.44 637.83L272.48 637.25L274.52 636.65L276.56 636.01L278.60 635.35L280.64 634.66L282.69 633.94L284.73 633.19L286.77 632.40L288.81 631.58L290.85 630.73L292.89 629.83L294.94 628.90L296.98 627.94L299.02 626.95L301.06 625.93L303.10 624.88L305.14 623.80L307.18 622.69L309.23 621.56L311.27 620.41L313.31 619.24L315.35 618.04L317.39 616.83L319.43 615.60L321.47 614.36L323.52 613.09L325.56 611.81L327.60 610.52L329.64 609.21L331.68 607.89L333.72 606.56L335.76 605.22L337.81 603.86L339.85 602.50L341.89 601.13L343.93 599.74L345.97 598.35L348.01 596.96L350.05 595.56L352.10 594.15L354.14 592.74L356.18 591.33L358.22 589.91L360.26 588.49L362.30 587.06L364.35 585.64L366.39 584.20L368.43 582.76L370.47 581.31L372.51 579.84L374.55 578.29L376.59 576.64L378.64 574.81L380.68 572.77L382.72 570.54L384.76 568.21L386.80 565.86L388.84 563.53L390.88 561.22L392.93 558.93L394.97 556.65L397.01 554.39L399.05 552.15L401.09 549.93L403.13 547.73L405.17 545.55L407.22 543.42L409.26 541.32L411.30 539.29L413.34 537.32L415.38 535.42L417.42 533.60L419.46 531.86L421.51 530.22L423.55 528.65L425.59 527.18L427.63 525.79L429.67 524.49L431.71 523.29L433.76 522.17L435.80 521.15L437.84 520.21L439.88 519.38L441.92 518.64L443.96 517.99L446.00 517.44L448.05 516.99L450.09 516.63L452.13 516.38L454.17 516.23L456.21 516.17L458.25 516.22L460.29 516.38L462.34 516.64L464.38 517.00L466.42 517.47L468.46 518.05L470.50 518.73L472.54 519.53L474.58 520.42L476.63 521.41L478.67 522.48L480.71 523.64L482.75 524.88L484.79 526.18L486.83 527.54L488.87 528.96L490.92 530.43L492.96 531.95L495.00 533.50L497.04 535.07L499.08 536.68L501.12 538.29L503.17 539.92L505.21 541.56L507.25 543.19L509.29 544.81L511.33 546.41L513.37 548.00L515.41 549.57L517.46 551.11L519.50 552.64L521.54 554.15L523.58 555.63L525.62 557.10L527.66 558.55L529.70 559.98L531.75 561.39L533.79 562.79L535.83 564.16L537.87 565.52L539.91 566.86L541.95 568.18L543.99 569.48L546.04 570.76L548.08 572.03L550.12 573.28L552.16 574.52L554.20 575.73L556.24 576.93L558.28 578.11L560.33 579.28L562.37 580.43L564.41 581.56L566.45 582.68L568.49 583.78L570.53 584.87L572.58 585.94L574.62 586.99L576.66 588.03L578.70 589.06L580.74 590.07L582.78 591.06L584.82 592.04L586.87 593.01L588.91 593.96L590.95 594.89L592.99 595.82L595.03 596.72L597.07 597.62L599.11 598.50L601.16 599.37L603.20 600.22L605.24 601.07L607.28 601.89L609.32 602.71L611.36 603.51L613.40 604.30L615.45 605.08L617.49 605.85L619.53 606.60L621.57 607.35L623.61 608.08L625.65 608.80L627.69 609.50L629.74 610.20L631.78 610.89L633.82 611.56L635.86 612.22L637.90 612.88L639.94 613.52L641.99 614.15L644.03 614.78L646.07 615.39L648.11 615.99L650.15 616.58L652.19 617.17L654.23 617.74L656.28 618.31L658.32 618.86L660.36 619.41L662.40 619.95" stroke="#ecf33a" stroke-width="2.8" stroke-dasharray="2.8 3.6"/>
<path d="M52.00 659.72L54.04 659.53L56.08 659.35L58.12 659.17L60.17 659.01L62.21 658.85L64.25 658.70L66.29 658.56L68.33 658.43L70.37 658.30L72.41 658.18L74.46 658.07L76.50 657.96L78.54 657.85L80.58 657.76L82.62 657.66L84.66 657.57L86.71 657.49L88.75 657.41L90.79 657.33L92.83 657.25L94.87 657.18L96.91 657.11L98.95 657.05L101.00 656.98L103.04 656.92L105.08 656.86L107.12 656.79L109.16 656.73L111.20 656.67L113.24 656.61L115.29 656.55L117.33 656.49L119.37 656.42L121.41 656.36L123.45 656.29L125.49 656.22L127.53 656.15L129.58 656.07L131.62 656.00L133.66 655.92L135.70 655.83L137.74 655.74L139.78 655.65L141.82 655.55L143.87 655.45L145.91 655.34L147.95 655.22L149.99 655.10L152.03 654.98L154.07 654.84L156.12 654.70L158.16 654.55L160.20 654.40L162.24 654.23L164.28 654.06L166.32 653.88L168.36 653.69L170.41 653.49L172.45 653.28L174.49 653.06L176.53 652.83L178.57 652.59L180.61 652.34L182.65 652.07L184.70 651.80L186.74 651.51L188.78 651.21L190.82 650.90L192.86 650.58L194.90 650.24L196.94 649.89L198.99 649.52L201.03 649.14L203.07 648.75L205.11 648.34L207.15 647.91L209.19 647.47L211.23 647.01L213.28 646.54L215.32 646.05L217.36 645.54L219.40 645.02L221.44 644.48L223.48 643.92L225.53 643.34L227.57 642.74L229.61 642.13L231.65 641.49L233.69 640.84L235.73 640.16L237.77 639.47L239.82 638.75L241.86 638.01L243.90 637.25L245.94 636.46L247.98 635.65L250.02 634.81L252.06 633.94L254.11 633.04L256.15 632.10L258.19 631.14L260.23 630.13L262.27 629.09L264.31 628.02L266.35 626.90L268.40 625.74L270.44 624.54L272.48 623.30L274.52 622.01L276.56 620.67L278.60 619.28L280.64 617.85L282.69 616.36L284.73 614.83L286.77 613.23L288.81 611.59L290.85 609.88L292.89 608.12L294.94 606.30L296.98 604.43L299.02 602.50L301.06 600.52L303.10 598.48L305.14 596.40L307.18 594.26L309.23 592.07L311.27 589.83L313.31 587.55L315.35 585.22L317.39 582.84L319.43 580.42L321.47 577.96L323.52 575.47L325.56 572.95L327.60 570.41L329.64 567.84L331.68 565.26L333.72 562.67L335.76 560.07L337.81 557.46L339.85 554.86L341.89 552.27L343.93 549.70L345.97 547.17L348.01 544.69L350.05 542.27L352.10 539.92L354.14 537.67L356.18 535.52L358.22 533.48L360.26 531.57L362.30 529.80L364.35 528.17L366.39 526.70L368.43 525.37L370.47 524.19L372.51 523.16L374.55 522.29L376.59 521.56L378.64 520.98L380.68 520.56L382.72 520.28L384.76 520.16L386.80 520.20L388.84 520.38L390.88 520.72L392.93 521.21L394.97 521.86L397.01 522.66L399.05 523.62L401.09 524.73L403.13 526.00L405.17 527.41L407.22 528.94L409.26 530.59L411.30 532.34L413.34 534.18L415.38 536.10L417.42 538.08L419.46 540.12L421.51 542.19L423.55 544.29L425.59 546.41L427.63 548.53L429.67 550.64L431.71 552.72L433.76 554.77L435.80 556.79L437.84 558.78L439.88 560.74L441.92 562.66L443.96 564.55L446.00 566.40L448.05 568.22L450.09 570.01L452.13 571.76L454.17 573.48L456.21 575.16L458.25 576.80L460.29 578.41L462.34 579.98L464.38 581.51L466.42 583.01L468.46 584.48L470.50 585.91L472.54 587.31L474.58 588.67L476.63 590.01L478.67 591.31L480.71 592.59L482.75 593.84L484.79 595.06L486.83 596.25L488.87 597.42L490.92 598.56L492.96 599.68L495.00 600.78L497.04 601.85L499.08 602.91L501.12 603.94L503.17 604.95L505.21 605.95L507.25 606.93L509.29 607.89L511.33 608.84L513.37 609.77L515.41 610.68L517.46 611.58L519.50 612.47L521.54 613.34L523.58 614.20L525.62 615.04L527.66 615.87L529.70 616.69L531.75 617.49L533.79 618.27L535.83 619.05L537.87 619.80L539.91 620.55L541.95 621.28L543.99 622.00L546.04 622.70L548.08 623.39L550.12 624.07L552.16 624.74L554.20 625.39L556.24 626.03L558.28 626.65L560.33 627.26L562.37 627.86L564.41 628.45L566.45 629.03L568.49 629.59L570.53 630.14L572.58 630.68L574.62 631.21L576.66 631.72L578.70 632.22L580.74 632.71L582.78 633.19L584.82 633.66L586.87 634.12L588.91 634.56L590.95 634.99L592.99 635.42L595.03 635.83L597.07 636.23L599.11 636.62L601.16 637.00L603.20 637.36L605.24 637.72L607.28 638.07L609.32 638.40L611.36 638.73L613.40 639.04L615.45 639.35L617.49 639.65L619.53 639.93L621.57 640.21L623.61 640.47L625.65 640.73L627.69 640.98L629.74 641.22L631.78 641.44L633.82 641.66L635.86 641.87L637.90 642.07L639.94 642.27L641.99 642.45L644.03 642.62L646.07 642.79L648.11 642.95L650.15 643.09L652.19 643.24L654.23 643.37L656.28 643.49L658.32 643.61L660.36 643.72L662.40 643.82" stroke="#3cec1e" stroke-width="3"/>
<path d="M52.00 659.49L54.04 659.27L56.08 659.07L58.12 658.87L60.17 658.69L62.21 658.51L64.25 658.35L66.29 658.19L68.33 658.04L70.37 657.90L72.41 657.76L74.46 657.64L76.50 657.52L78.54 657.40L80.58 657.30L82.62 657.19L84.66 657.10L86.71 657.01L88.75 656.92L90.79 656.84L92.83 656.76L94.87 656.68L96.91 656.61L98.95 656.54L101.00 656.48L103.04 656.41L105.08 656.35L107.12 656.29L109.16 656.23L111.20 656.17L113.24 656.11L115.29 656.05L117.33 655.99L119.37 655.93L121.41 655.87L123.45 655.80L125.49 655.74L127.53 655.67L129.58 655.60L131.62 655.52L133.66 655.45L135.70 655.37L137.74 655.28L139.78 655.19L141.82 655.10L143.87 655.00L145.91 654.89L147.95 654.78L149.99 654.66L152.03 654.53L154.07 654.40L156.12 654.26L158.16 654.12L160.20 653.96L162.24 653.79L164.28 653.62L166.32 653.44L168.36 653.25L170.41 653.04L172.45 652.83L174.49 652.61L176.53 652.37L178.57 652.13L180.61 651.87L182.65 651.60L184.70 651.31L186.74 651.02L188.78 650.71L190.82 650.38L192.86 650.05L194.90 649.69L196.94 649.33L198.99 648.95L201.03 648.55L203.07 648.13L205.11 647.70L207.15 647.26L209.19 646.79L211.23 646.31L213.28 645.81L215.32 645.30L217.36 644.76L219.40 644.21L221.44 643.63L223.48 643.04L225.53 642.42L227.57 641.79L229.61 641.14L231.65 640.46L233.69 639.76L235.73 639.04L237.77 638.30L239.82 637.54L241.86 636.75L243.90 635.94L245.94 635.10L247.98 634.23L250.02 633.34L252.06 632.41L254.11 631.46L256.15 630.47L258.19 629.46L260.23 628.40L262.27 627.32L264.31 626.19L266.35 625.03L268.40 623.84L270.44 622.60L272.48 621.32L274.52 620.00L276.56 618.64L278.60 617.23L280.64 615.78L282.69 614.29L284.73 612.74L286.77 611.15L288.81 609.51L290.85 607.82L292.89 606.07L294.94 604.28L296.98 602.43L299.02 600.52L301.06 598.56L303.10 596.54L305.14 594.47L307.18 592.33L309.23 590.13L311.27 587.88L313.31 585.56L315.35 583.17L317.39 580.73L319.43 578.22L321.47 575.68L323.52 573.09L325.56 570.48L327.60 567.85L329.64 565.21L331.68 562.57L333.72 559.94L335.76 557.32L337.81 554.73L339.85 552.17L341.89 549.66L343.93 547.20L345.97 544.80L348.01 542.47L350.05 540.22L352.10 538.06L354.14 536.00L356.18 534.04L358.22 532.20L360.26 530.48L362.30 528.89L364.35 527.45L366.39 526.14L368.43 524.97L370.47 523.94L372.51 523.06L374.55 522.31L376.59 521.71L378.64 521.25L380.68 520.94L382.72 520.77L384.76 520.74L386.80 520.87L388.84 521.14L390.88 521.55L392.93 522.12L394.97 522.83L397.01 523.69L399.05 524.71L401.09 525.87L403.13 527.19L405.17 528.63L407.22 530.20L409.26 531.88L411.30 533.66L413.34 535.52L415.38 537.45L417.42 539.44L419.46 541.48L421.51 543.54L423.55 545.63L425.59 547.73L427.63 549.82L429.67 551.89L431.71 553.93L433.76 555.94L435.80 557.90L437.84 559.83L439.88 561.71L441.92 563.57L443.96 565.38L446.00 567.16L448.05 568.90L450.09 570.61L452.13 572.29L454.17 573.93L456.21 575.54L458.25 577.11L460.29 578.66L462.34 580.17L464.38 581.66L466.42 583.11L468.46 584.54L470.50 585.94L472.54 587.31L474.58 588.65L476.63 589.96L478.67 591.25L480.71 592.52L482.75 593.76L484.79 594.97L486.83 596.17L488.87 597.34L490.92 598.48L492.96 599.61L495.00 600.71L497.04 601.79L499.08 602.86L501.12 603.90L503.17 604.93L505.21 605.93L507.25 606.92L509.29 607.90L511.33 608.85L513.37 609.79L515.41 610.72L517.46 611.63L519.50 612.52L521.54 613.40L523.58 614.26L525.62 615.11L527.66 615.94L529.70 616.76L531.75 617.56L533.79 618.35L535.83 619.12L537.87 619.88L539.91 620.63L541.95 621.36L543.99 622.08L546.04 622.78L548.08 623.47L550.12 624.15L552.16 624.81L554.20 625.46L556.24 626.09L558.28 626.71L560.33 627.32L562.37 627.92L564.41 628.50L566.45 629.07L568.49 629.63L570.53 630.18L572.58 630.71L574.62 631.23L576.66 631.74L578.70 632.24L580.74 632.73L582.78 633.20L584.82 633.66L586.87 634.11L588.91 634.55L590.95 634.98L592.99 635.40L595.03 635.80L597.07 636.20L599.11 636.58L601.16 636.96L603.20 637.32L605.24 637.68L607.28 638.02L609.32 638.35L611.36 638.67L613.40 638.99L615.45 639.29L617.49 639.58L619.53 639.87L621.57 640.14L623.61 640.41L625.65 640.66L627.69 640.91L629.74 641.15L631.78 641.38L633.82 641.60L635.86 641.81L637.90 642.02L639.94 642.21L641.99 642.40L644.03 642.58L646.07 642.75L648.11 642.92L650.15 643.07L652.19 643.22L654.23 643.37L656.28 643.50L658.32 643.63L660.36 643.75L662.40 643.86" stroke="#3cec1e" stroke-width="2.8" stroke-dasharray="2.8 3.6"/>
<path d="M52.00 655.69L54.04 655.21L56.08 654.75L58.12 654.31L60.17 653.89L62.21 653.49L64.25 653.10L66.29 652.72L68.33 652.36L70.37 652.02L72.41 651.68L74.46 651.36L76.50 651.05L78.54 650.75L80.58 650.46L82.62 650.17L84.66 649.89L86.71 649.62L88.75 649.36L90.79 649.10L92.83 648.84L94.87 648.59L96.91 648.34L98.95 648.09L101.00 647.84L103.04 647.59L105.08 647.34L107.12 647.09L109.16 646.83L111.20 646.57L113.24 646.31L115.29 646.04L117.33 645.77L119.37 645.48L121.41 645.19L123.45 644.90L125.49 644.59L127.53 644.27L129.58 643.94L131.62 643.60L133.66 643.24L135.70 642.87L137.74 642.49L139.78 642.09L141.82 641.67L143.87 641.24L145.91 640.79L147.95 640.32L149.99 639.83L152.03 639.31L154.07 638.78L156.12 638.23L158.16 637.65L160.20 637.05L162.24 636.42L164.28 635.77L166.32 635.09L168.36 634.38L170.41 633.65L172.45 632.88L174.49 632.09L176.53 631.26L178.57 630.41L180.61 629.52L182.65 628.59L184.70 627.64L186.74 626.66L188.78 625.64L190.82 624.60L192.86 623.54L194.90 622.45L196.94 621.33L198.99 620.19L201.03 619.04L203.07 617.86L205.11 616.67L207.15 615.46L209.19 614.23L211.23 612.99L213.28 611.74L215.32 610.47L217.36 609.20L219.40 607.92L221.44 606.63L223.48 605.34L225.53 604.04L227.57 602.74L229.61 601.43L231.65 600.13L233.69 598.83L235.73 597.53L237.77 596.21L239.82 594.89L241.86 593.54L243.90 592.17L245.94 590.76L247.98 589.32L250.02 587.82L252.06 586.28L254.11 584.68L256.15 583.01L258.19 581.29L260.23 579.52L262.27 577.70L264.31 575.84L266.35 573.95L268.40 572.03L270.44 570.08L272.48 568.12L274.52 566.15L276.56 564.17L278.60 562.19L280.64 560.21L282.69 558.25L284.73 556.30L286.77 554.38L288.81 552.48L290.85 550.61L292.89 548.79L294.94 547.01L296.98 545.27L299.02 543.60L301.06 541.98L303.10 540.43L305.14 538.96L307.18 537.56L309.23 536.25L311.27 535.02L313.31 533.89L315.35 532.86L317.39 531.94L319.43 531.13L321.47 530.42L323.52 529.83L325.56 529.34L327.60 528.95L329.64 528.67L331.68 528.48L333.72 528.39L335.76 528.39L337.81 528.49L339.85 528.67L341.89 528.94L343.93 529.30L345.97 529.74L348.01 530.26L350.05 530.85L352.10 531.53L354.14 532.27L356.18 533.09L358.22 533.98L360.26 534.93L362.30 535.94L364.35 537.02L366.39 538.16L368.43 539.36L370.47 540.61L372.51 541.91L374.55 543.26L376.59 544.65L378.64 546.08L380.68 547.54L382.72 549.03L384.76 550.54L386.80 552.07L388.84 553.61L390.88 555.15L392.93 556.70L394.97 558.25L397.01 559.78L399.05 561.31L401.09 562.81L403.13 564.30L405.17 565.76L407.22 567.20L409.26 568.62L411.30 570.02L413.34 571.39L415.38 572.75L417.42 574.08L419.46 575.39L421.51 576.67L423.55 577.93L425.59 579.17L427.63 580.39L429.67 581.59L431.71 582.76L433.76 583.91L435.80 585.03L437.84 586.14L439.88 587.22L441.92 588.28L443.96 589.33L446.00 590.35L448.05 591.35L450.09 592.34L452.13 593.30L454.17 594.25L456.21 595.18L458.25 596.10L460.29 596.99L462.34 597.88L464.38 598.74L466.42 599.60L468.46 600.43L470.50 601.26L472.54 602.07L474.58 602.87L476.63 603.66L478.67 604.43L480.71 605.20L482.75 605.95L484.79 606.69L486.83 607.43L488.87 608.15L490.92 608.86L492.96 609.56L495.00 610.25L497.04 610.94L499.08 611.61L501.12 612.27L503.17 612.92L505.21 613.56L507.25 614.19L509.29 614.82L511.33 615.43L513.37 616.03L515.41 616.63L517.46 617.21L519.50 617.79L521.54 618.36L523.58 618.91L525.62 619.46L527.66 620.00L529.70 620.54L531.75 621.06L533.79 621.57L535.83 622.08L537.87 622.58L539.91 623.07L541.95 623.55L543.99 624.02L546.04 624.49L548.08 624.94L550.12 625.39L552.16 625.83L554.20 626.27L556.24 626.69L558.28 627.11L560.33 627.52L562.37 627.93L564.41 628.32L566.45 628.71L568.49 629.10L570.53 629.47L572.58 629.84L574.62 630.20L576.66 630.56L578.70 630.90L580.74 631.25L582.78 631.58L584.82 631.91L586.87 632.23L588.91 632.55L590.95 632.86L592.99 633.16L595.03 633.46L597.07 633.75L599.11 634.04L601.16 634.32L603.20 634.60L605.24 634.87L607.28 635.13L609.32 635.39L611.36 635.64L613.40 635.89L615.45 636.13L617.49 636.37L619.53 636.61L621.57 636.83L623.61 637.06L625.65 637.28L627.69 637.49L629.74 637.70L631.78 637.91L633.82 638.11L635.86 638.30L637.90 638.50L639.94 638.69L641.99 638.87L644.03 639.05L646.07 639.23L648.11 639.40L650.15 639.57L652.19 639.74L654.23 639.90L656.28 640.06L658.32 640.21L660.36 640.36L662.40 640.51" stroke="#70f8f8" stroke-width="3"/>
<path d="M52.00 655.65L54.04 655.23L56.08 654.83L58.12 654.44L60.17 654.07L62.21 653.70L64.25 653.35L66.29 653.01L68.33 652.67L70.37 652.35L72.41 652.03L74.46 651.72L76.50 651.42L78.54 651.12L80.58 650.83L82.62 650.55L84.66 650.26L86.71 649.99L88.75 649.71L90.79 649.44L92.83 649.17L94.87 648.89L96.91 648.62L98.95 648.35L101.00 648.08L103.04 647.81L105.08 647.53L107.12 647.25L109.16 646.97L111.20 646.68L113.24 646.39L115.29 646.09L117.33 645.78L119.37 645.47L121.41 645.15L123.45 644.82L125.49 644.49L127.53 644.14L129.58 643.78L131.62 643.41L133.66 643.03L135.70 642.64L137.74 642.24L139.78 641.82L141.82 641.38L143.87 640.94L145.91 640.47L147.95 639.99L149.99 639.49L152.03 638.98L154.07 638.45L156.12 637.89L158.16 637.32L160.20 636.73L162.24 636.12L164.28 635.48L166.32 634.82L168.36 634.14L170.41 633.44L172.45 632.71L174.49 631.96L176.53 631.18L178.57 630.37L180.61 629.54L182.65 628.68L184.70 627.80L186.74 626.89L188.78 625.95L190.82 624.99L192.86 624.00L194.90 622.99L196.94 621.96L198.99 620.90L201.03 619.83L203.07 618.73L205.11 617.61L207.15 616.47L209.19 615.31L211.23 614.14L213.28 612.95L215.32 611.73L217.36 610.51L219.40 609.26L221.44 608.00L223.48 606.73L225.53 605.44L227.57 604.14L229.61 602.83L231.65 601.50L233.69 600.16L235.73 598.81L237.77 597.44L239.82 596.06L241.86 594.65L243.90 593.21L245.94 591.75L247.98 590.25L250.02 588.72L252.06 587.15L254.11 585.54L256.15 583.89L258.19 582.20L260.23 580.48L262.27 578.72L264.31 576.94L266.35 575.14L268.40 573.33L270.44 571.50L272.48 569.67L274.52 567.83L276.56 565.99L278.60 564.16L280.64 562.34L282.69 560.54L284.73 558.76L286.77 556.99L288.81 555.26L290.85 553.56L292.89 551.90L294.94 550.27L296.98 548.70L299.02 547.17L301.06 545.70L303.10 544.29L305.14 542.94L307.18 541.66L309.23 540.45L311.27 539.32L313.31 538.27L315.35 537.31L317.39 536.44L319.43 535.66L321.47 534.97L323.52 534.38L325.56 533.88L327.60 533.46L329.64 533.14L331.68 532.90L333.72 532.74L335.76 532.67L337.81 532.68L339.85 532.77L341.89 532.94L343.93 533.19L345.97 533.51L348.01 533.91L350.05 534.38L352.10 534.92L354.14 535.53L356.18 536.22L358.22 536.96L360.26 537.78L362.30 538.66L364.35 539.60L366.39 540.60L368.43 541.67L370.47 542.79L372.51 543.97L374.55 545.20L376.59 546.47L378.64 547.79L380.68 549.15L382.72 550.53L384.76 551.94L386.80 553.38L388.84 554.83L390.88 556.29L392.93 557.76L394.97 559.23L397.01 560.70L399.05 562.16L401.09 563.60L403.13 565.04L405.17 566.45L407.22 567.84L409.26 569.22L411.30 570.58L413.34 571.92L415.38 573.24L417.42 574.55L419.46 575.83L421.51 577.09L423.55 578.33L425.59 579.55L427.63 580.75L429.67 581.93L431.71 583.08L433.76 584.21L435.80 585.32L437.84 586.41L439.88 587.48L441.92 588.52L443.96 589.55L446.00 590.56L448.05 591.54L450.09 592.51L452.13 593.47L454.17 594.40L456.21 595.32L458.25 596.22L460.29 597.11L462.34 597.98L464.38 598.83L466.42 599.67L468.46 600.50L470.50 601.32L472.54 602.12L474.58 602.91L476.63 603.69L478.67 604.45L480.71 605.21L482.75 605.96L484.79 606.69L486.83 607.42L488.87 608.13L490.92 608.84L492.96 609.54L495.00 610.22L497.04 610.90L499.08 611.57L501.12 612.23L503.17 612.88L505.21 613.51L507.25 614.14L509.29 614.77L511.33 615.38L513.37 615.98L515.41 616.57L517.46 617.16L519.50 617.73L521.54 618.30L523.58 618.86L525.62 619.41L527.66 619.95L529.70 620.48L531.75 621.01L533.79 621.52L535.83 622.03L537.87 622.53L539.91 623.02L541.95 623.50L543.99 623.98L546.04 624.45L548.08 624.91L550.12 625.36L552.16 625.80L554.20 626.24L556.24 626.67L558.28 627.09L560.33 627.50L562.37 627.91L564.41 628.31L566.45 628.70L568.49 629.09L570.53 629.47L572.58 629.84L574.62 630.20L576.66 630.56L578.70 630.91L580.74 631.26L582.78 631.60L584.82 631.93L586.87 632.25L588.91 632.57L590.95 632.89L592.99 633.19L595.03 633.49L597.07 633.79L599.11 634.08L601.16 634.36L603.20 634.64L605.24 634.91L607.28 635.17L609.32 635.43L611.36 635.69L613.40 635.94L615.45 636.18L617.49 636.42L619.53 636.65L621.57 636.88L623.61 637.10L625.65 637.32L627.69 637.53L629.74 637.74L631.78 637.95L633.82 638.14L635.86 638.34L637.90 638.53L639.94 638.71L641.99 638.90L644.03 639.07L646.07 639.24L648.11 639.41L650.15 639.58L652.19 639.74L654.23 639.89L656.28 640.05L658.32 640.19L660.36 640.34L662.40 640.48" stroke="#70f8f8" stroke-width="2.8" stroke-dasharray="2.8 3.6"/>
<path d="M52.00 645.66L54.04 645.19L56.08 644.71L58.12 644.22L60.17 643.72L62.21 643.21L64.25 642.69L66.29 642.16L68.33 641.61L70.37 641.06L72.41 640.49L74.46 639.91L76.50 639.31L78.54 638.70L80.58 638.07L82.62 637.43L84.66 636.78L86.71 636.10L88.75 635.41L90.79 634.70L92.83 633.98L94.87 633.23L96.91 632.46L98.95 631.68L101.00 630.87L103.04 630.05L105.08 629.20L107.12 628.33L109.16 627.43L111.20 626.52L113.24 625.58L115.29 624.61L117.33 623.62L119.37 622.61L121.41 621.57L123.45 620.50L125.49 619.40L127.53 618.28L129.58 617.13L131.62 615.95L133.66 614.74L135.70 613.50L137.74 612.23L139.78 610.93L141.82 609.60L143.87 608.24L145.91 606.84L147.95 605.41L149.99 603.95L152.03 602.45L154.07 600.92L156.12 599.35L158.16 597.75L160.20 596.11L162.24 594.43L164.28 592.72L166.32 590.96L168.36 589.17L170.41 587.34L172.45 585.47L174.49 583.56L176.53 581.61L178.57 579.61L180.61 577.58L182.65 575.51L184.70 573.40L186.74 571.26L188.78 569.11L190.82 566.95L192.86 564.79L194.90 562.64L196.94 560.50L198.99 558.38L201.03 556.29L203.07 554.24L205.11 552.23L207.15 550.28L209.19 548.39L211.23 546.56L213.28 544.82L215.32 543.16L217.36 541.58L219.40 540.11L221.44 538.73L223.48 537.44L225.53 536.26L227.57 535.19L229.61 534.21L231.65 533.35L233.69 532.60L235.73 531.96L237.77 531.43L239.82 531.02L241.86 530.74L243.90 530.57L245.94 530.53L247.98 530.62L250.02 530.82L252.06 531.15L254.11 531.58L256.15 532.12L258.19 532.76L260.23 533.50L262.27 534.33L264.31 535.25L266.35 536.24L268.40 537.32L270.44 538.46L272.48 539.67L274.52 540.95L276.56 542.27L278.60 543.65L280.64 545.08L282.69 546.55L284.73 548.05L286.77 549.59L288.81 551.16L290.85 552.76L292.89 554.38L294.94 556.01L296.98 557.66L299.02 559.32L301.06 560.98L303.10 562.65L305.14 564.31L307.18 565.97L309.23 567.62L311.27 569.25L313.31 570.87L315.35 572.46L317.39 574.03L319.43 575.57L321.47 577.07L323.52 578.54L325.56 579.96L327.60 581.34L329.64 582.68L331.68 583.96L333.72 585.21L335.76 586.41L337.81 587.58L339.85 588.71L341.89 589.81L343.93 590.87L345.97 591.91L348.01 592.92L350.05 593.90L352.10 594.86L354.14 595.81L356.18 596.73L358.22 597.64L360.26 598.53L362.30 599.42L364.35 600.29L366.39 601.15L368.43 602.00L370.47 602.84L372.51 603.66L374.55 604.48L376.59 605.29L378.64 606.08L380.68 606.86L382.72 607.64L384.76 608.40L386.80 609.15L388.84 609.89L390.88 610.62L392.93 611.34L394.97 612.06L397.01 612.76L399.05 613.45L401.09 614.13L403.13 614.80L405.17 615.46L407.22 616.11L409.26 616.75L411.30 617.39L413.34 618.01L415.38 618.62L417.42 619.23L419.46 619.82L421.51 620.41L423.55 620.99L425.59 621.55L427.63 622.11L429.67 622.67L431.71 623.21L433.76 623.74L435.80 624.27L437.84 624.78L439.88 625.29L441.92 625.79L443.96 626.28L446.00 626.77L448.05 627.24L450.09 627.71L452.13 628.17L454.17 628.62L456.21 629.07L458.25 629.50L460.29 629.93L462.34 630.36L464.38 630.77L466.42 631.18L468.46 631.58L470.50 631.97L472.54 632.36L474.58 632.74L476.63 633.11L478.67 633.48L480.71 633.84L482.75 634.19L484.79 634.54L486.83 634.87L488.87 635.21L490.92 635.54L492.96 635.86L495.00 636.17L497.04 636.48L499.08 636.78L501.12 637.08L503.17 637.37L505.21 637.66L507.25 637.94L509.29 638.21L511.33 638.48L513.37 638.75L515.41 639.00L517.46 639.26L519.50 639.51L521.54 639.75L523.58 639.99L525.62 640.22L527.66 640.45L529.70 640.67L531.75 640.89L533.79 641.11L535.83 641.32L537.87 641.53L539.91 641.73L541.95 641.93L543.99 642.12L546.04 642.31L548.08 642.50L550.12 642.68L552.16 642.86L554.20 643.03L556.24 643.20L558.28 643.37L560.33 643.54L562.37 643.70L564.41 643.85L566.45 644.01L568.49 644.16L570.53 644.31L572.58 644.45L574.62 644.60L576.66 644.74L578.70 644.87L580.74 645.01L582.78 645.14L584.82 645.27L586.87 645.40L588.91 645.52L590.95 645.65L592.99 645.77L595.03 645.89L597.07 646.00L599.11 646.12L601.16 646.23L603.20 646.34L605.24 646.45L607.28 646.56L609.32 646.67L611.36 646.78L613.40 646.88L615.45 646.99L617.49 647.09L619.53 647.19L621.57 647.29L623.61 647.39L625.65 647.49L627.69 647.59L629.74 647.68L631.78 647.78L633.82 647.88L635.86 647.97L637.90 648.07L639.94 648.17L641.99 648.26L644.03 648.36L646.07 648.45L648.11 648.55L650.15 648.65L652.19 648.74L654.23 648.84L656.28 648.94L658.32 649.04L660.36 649.14L662.40 649.24" stroke="#3a78bf" stroke-width="3"/>
<path d="M52.00 645.93L54.04 645.45L56.08 644.97L58.12 644.47L60.17 643.97L62.21 643.46L64.25 642.94L66.29 642.41L68.33 641.87L70.37 641.31L72.41 640.75L74.46 640.17L76.50 639.58L78.54 638.97L80.58 638.35L82.62 637.72L84.66 637.07L86.71 636.41L88.75 635.72L90.79 635.03L92.83 634.31L94.87 633.58L96.91 632.82L98.95 632.05L101.00 631.26L103.04 630.45L105.08 629.62L107.12 628.77L109.16 627.90L111.20 627.00L113.24 626.08L115.29 625.14L117.33 624.18L119.37 623.19L121.41 622.17L123.45 621.13L125.49 620.07L127.53 618.98L129.58 617.86L131.62 616.71L133.66 615.54L135.70 614.33L137.74 613.10L139.78 611.84L141.82 610.55L143.87 609.23L145.91 607.88L147.95 606.49L149.99 605.07L152.03 603.63L154.07 602.14L156.12 600.63L158.16 599.08L160.20 597.49L162.24 595.87L164.28 594.21L166.32 592.52L168.36 590.79L170.41 589.02L172.45 587.22L174.49 585.37L176.53 583.50L178.57 581.59L180.61 579.66L182.65 577.71L184.70 575.75L186.74 573.79L188.78 571.83L190.82 569.88L192.86 567.95L194.90 566.04L196.94 564.17L198.99 562.34L201.03 560.55L203.07 558.83L205.11 557.17L207.15 555.58L209.19 554.06L211.23 552.63L213.28 551.27L215.32 550.00L217.36 548.82L219.40 547.72L221.44 546.72L223.48 545.81L225.53 544.99L227.57 544.27L229.61 543.65L231.65 543.14L233.69 542.72L235.73 542.42L237.77 542.22L239.82 542.14L241.86 542.16L243.90 542.30L245.94 542.53L247.98 542.87L250.02 543.29L252.06 543.81L254.11 544.41L256.15 545.08L258.19 545.83L260.23 546.65L262.27 547.52L264.31 548.46L266.35 549.45L268.40 550.49L270.44 551.57L272.48 552.68L274.52 553.83L276.56 555.01L278.60 556.21L280.64 557.43L282.69 558.67L284.73 559.91L286.77 561.17L288.81 562.44L290.85 563.72L292.89 565.00L294.94 566.30L296.98 567.60L299.02 568.90L301.06 570.21L303.10 571.52L305.14 572.83L307.18 574.14L309.23 575.46L311.27 576.77L313.31 578.07L315.35 579.37L317.39 580.67L319.43 581.96L321.47 583.24L323.52 584.52L325.56 585.78L327.60 587.03L329.64 588.27L331.68 589.50L333.72 590.71L335.76 591.91L337.81 593.09L339.85 594.25L341.89 595.39L343.93 596.52L345.97 597.62L348.01 598.70L350.05 599.75L352.10 600.78L354.14 601.78L356.18 602.76L358.22 603.71L360.26 604.63L362.30 605.51L364.35 606.37L366.39 607.20L368.43 608.01L370.47 608.79L372.51 609.54L374.55 610.27L376.59 610.98L378.64 611.66L380.68 612.33L382.72 612.97L384.76 613.60L386.80 614.21L388.84 614.81L390.88 615.39L392.93 615.95L394.97 616.51L397.01 617.05L399.05 617.58L401.09 618.11L403.13 618.62L405.17 619.13L407.22 619.63L409.26 620.13L411.30 620.63L413.34 621.12L415.38 621.61L417.42 622.10L419.46 622.59L421.51 623.08L423.55 623.57L425.59 624.06L427.63 624.55L429.67 625.03L431.71 625.52L433.76 626.00L435.80 626.48L437.84 626.96L439.88 627.44L441.92 627.92L443.96 628.39L446.00 628.86L448.05 629.33L450.09 629.80L452.13 630.26L454.17 630.72L456.21 631.18L458.25 631.63L460.29 632.08L462.34 632.52L464.38 632.96L466.42 633.39L468.46 633.82L470.50 634.25L472.54 634.67L474.58 635.09L476.63 635.50L478.67 635.90L480.71 636.30L482.75 636.69L484.79 637.08L486.83 637.46L488.87 637.84L490.92 638.20L492.96 638.56L495.00 638.92L497.04 639.27L499.08 639.60L501.12 639.94L503.17 640.26L505.21 640.58L507.25 640.89L509.29 641.19L511.33 641.49L513.37 641.78L515.41 642.06L517.46 642.34L519.50 642.61L521.54 642.87L523.58 643.13L525.62 643.38L527.66 643.62L529.70 643.86L531.75 644.10L533.79 644.32L535.83 644.55L537.87 644.76L539.91 644.98L541.95 645.18L543.99 645.38L546.04 645.58L548.08 645.77L550.12 645.96L552.16 646.14L554.20 646.32L556.24 646.49L558.28 646.66L560.33 646.82L562.37 646.98L564.41 647.13L566.45 647.29L568.49 647.43L570.53 647.58L572.58 647.72L574.62 647.85L576.66 647.99L578.70 648.12L580.74 648.24L582.78 648.37L584.82 648.49L586.87 648.61L588.91 648.72L590.95 648.83L592.99 648.94L595.03 649.05L597.07 649.15L599.11 649.26L601.16 649.36L603.20 649.45L605.24 649.55L607.28 649.64L609.32 649.74L611.36 649.83L613.40 649.92L615.45 650.01L617.49 650.09L619.53 650.18L621.57 650.26L623.61 650.35L625.65 650.43L627.69 650.51L629.74 650.59L631.78 650.67L633.82 650.75L635.86 650.83L637.90 650.91L639.94 650.99L641.99 651.07L644.03 651.15L646.07 651.23L648.11 651.31L650.15 651.39L652.19 651.47L654.23 651.55L656.28 651.63L658.32 651.71L660.36 651.80L662.40 651.88" stroke="#3a78bf" stroke-width="2.8" stroke-dasharray="2.8 3.6"/>
<path d="M52.00 652.07L54.04 651.48L56.08 650.94L58.12 650.43L60.17 649.95L62.21 649.49L64.25 649.04L66.29 648.60L68.33 648.16L70.37 647.71L72.41 647.25L74.46 646.77L76.50 646.25L78.54 645.70L80.58 645.10L82.62 644.45L84.66 643.75L86.71 642.98L88.75 642.13L90.79 641.21L92.83 640.20L94.87 639.09L96.91 637.88L98.95 636.57L101.00 635.14L103.04 633.58L105.08 631.89L107.12 630.07L109.16 628.11L111.20 626.02L113.24 623.78L115.29 621.40L117.33 618.87L119.37 616.20L121.41 613.39L123.45 610.42L125.49 607.31L127.53 604.05L129.58 600.63L131.62 597.06L133.66 593.33L135.70 589.45L137.74 585.41L139.78 581.21L141.82 576.86L143.87 572.41L145.91 567.93L147.95 563.46L149.99 559.08L152.03 554.83L154.07 550.79L156.12 546.99L158.16 543.52L160.20 540.42L162.24 537.74L164.28 535.51L166.32 533.75L168.36 532.49L170.41 531.74L172.45 531.48L174.49 531.66L176.53 532.25L178.57 533.21L180.61 534.50L182.65 536.09L184.70 537.93L186.74 539.99L188.78 542.23L190.82 544.61L192.86 547.09L194.90 549.64L196.94 552.21L198.99 554.77L201.03 557.31L203.07 559.82L205.11 562.31L207.15 564.77L209.19 567.21L211.23 569.62L213.28 572.00L215.32 574.35L217.36 576.67L219.40 578.96L221.44 581.23L223.48 583.46L225.53 585.66L227.57 587.82L229.61 589.96L231.65 592.05L233.69 594.12L235.73 596.15L237.77 598.14L239.82 600.10L241.86 602.02L243.90 603.90L245.94 605.74L247.98 607.54L250.02 609.31L252.06 611.03L254.11 612.71L256.15 614.35L258.19 615.95L260.23 617.50L262.27 619.02L264.31 620.49L266.35 621.92L268.40 623.30L270.44 624.64L272.48 625.93L274.52 627.18L276.56 628.39L278.60 629.55L280.64 630.66L282.69 631.73L284.73 632.75L286.77 633.72L288.81 634.65L290.85 635.53L292.89 636.36L294.94 637.14L296.98 637.89L299.02 638.59L301.06 639.25L303.10 639.87L305.14 640.46L307.18 641.02L309.23 641.54L311.27 642.04L313.31 642.51L315.35 642.95L317.39 643.37L319.43 643.77L321.47 644.15L323.52 644.51L325.56 644.85L327.60 645.19L329.64 645.51L331.68 645.82L333.72 646.12L335.76 646.42L337.81 646.71L339.85 647.00L341.89 647.29L343.93 647.57L345.97 647.84L348.01 648.11L350.05 648.38L352.10 648.64L354.14 648.90L356.18 649.15L358.22 649.40L360.26 649.64L362.30 649.89L364.35 650.12L366.39 650.35L368.43 650.58L370.47 650.81L372.51 651.03L374.55 651.24L376.59 651.46L378.64 651.66L380.68 651.87L382.72 652.07L384.76 652.27L386.80 652.46L388.84 652.65L390.88 652.84L392.93 653.02L394.97 653.20L397.01 653.37L399.05 653.55L401.09 653.72L403.13 653.88L405.17 654.04L407.22 654.20L409.26 654.36L411.30 654.51L413.34 654.66L415.38 654.80L417.42 654.95L419.46 655.09L421.51 655.22L423.55 655.36L425.59 655.49L427.63 655.62L429.67 655.74L431.71 655.86L433.76 655.98L435.80 656.10L437.84 656.21L439.88 656.32L441.92 656.43L443.96 656.54L446.00 656.64L448.05 656.74L450.09 656.84L452.13 656.94L454.17 657.03L456.21 657.12L458.25 657.21L460.29 657.30L462.34 657.38L464.38 657.46L466.42 657.54L468.46 657.62L470.50 657.70L472.54 657.77L474.58 657.84L476.63 657.91L478.67 657.98L480.71 658.05L482.75 658.11L484.79 658.17L486.83 658.23L488.87 658.29L490.92 658.35L492.96 658.41L495.00 658.46L497.04 658.51L499.08 658.56L501.12 658.61L503.17 658.66L505.21 658.71L507.25 658.75L509.29 658.80L511.33 658.84L513.37 658.88L515.41 658.92L517.46 658.96L519.50 659.00L521.54 659.04L523.58 659.07L525.62 659.11L527.66 659.14L529.70 659.17L531.75 659.21L533.79 659.24L535.83 659.27L537.87 659.30L539.91 659.33L541.95 659.35L543.99 659.38L546.04 659.41L548.08 659.43L550.12 659.46L552.16 659.49L554.20 659.51L556.24 659.53L558.28 659.56L560.33 659.58L562.37 659.61L564.41 659.63L566.45 659.65L568.49 659.68L570.53 659.70L572.58 659.72L574.62 659.74L576.66 659.77L578.70 659.79L580.74 659.81L582.78 659.83L584.82 659.86L586.87 659.88L588.91 659.90L590.95 659.93L592.99 659.95L595.03 659.97L597.07 660.00L599.11 660.02L601.16 660.05L603.20 660.08L605.24 660.10L607.28 660.13L609.32 660.16L611.36 660.19L613.40 660.21L615.45 660.24L617.49 660.27L619.53 660.31L621.57 660.34L623.61 660.37L625.65 660.41L627.69 660.44L629.74 660.48L631.78 660.51L633.82 660.55L635.86 660.59L637.90 660.63L639.94 660.67L641.99 660.72L644.03 660.76L646.07 660.81L648.11 660.85L650.15 660.90L652.19 660.95L654.23 661.00L656.28 661.06L658.32 661.11L660.36 661.17L662.40 661.23" stroke="#f538b0" stroke-width="3"/>
<path d="M52.00 646.15L54.04 645.66L56.08 645.18L58.12 644.68L60.17 644.19L62.21 643.68L64.25 643.16L66.29 642.62L68.33 642.05L70.37 641.45L72.41 640.83L74.46 640.16L76.50 639.46L78.54 638.71L80.58 637.90L82.62 637.05L84.66 636.13L86.71 635.16L88.75 634.11L90.79 632.99L92.83 631.80L94.87 630.52L96.91 629.16L98.95 627.71L101.00 626.17L103.04 624.53L105.08 622.79L107.12 620.94L109.16 618.98L111.20 616.91L113.24 614.73L115.29 612.43L117.33 610.02L119.37 607.49L121.41 604.84L123.45 602.06L125.49 599.16L127.53 596.14L129.58 592.98L131.62 589.70L133.66 586.28L135.70 582.75L137.74 579.13L139.78 575.44L141.82 571.72L143.87 568.00L145.91 564.31L147.95 560.67L149.99 557.11L152.03 553.67L154.07 550.37L156.12 547.25L158.16 544.34L160.20 541.68L162.24 539.30L164.28 537.23L166.32 535.52L168.36 534.19L170.41 533.28L172.45 532.83L174.49 532.83L176.53 533.21L178.57 533.90L180.61 534.86L182.65 536.06L184.70 537.49L186.74 539.11L188.78 540.93L190.82 542.91L192.86 545.03L194.90 547.28L196.94 549.63L198.99 552.08L201.03 554.58L203.07 557.14L205.11 559.72L207.15 562.31L209.19 564.89L211.23 567.44L213.28 569.93L215.32 572.35L217.36 574.69L219.40 576.95L221.44 579.12L223.48 581.23L225.53 583.26L227.57 585.23L229.61 587.14L231.65 588.98L233.69 590.78L235.73 592.53L237.77 594.23L239.82 595.90L241.86 597.52L243.90 599.12L245.94 600.69L247.98 602.23L250.02 603.76L252.06 605.27L254.11 606.78L256.15 608.27L258.19 609.77L260.23 611.26L262.27 612.77L264.31 614.28L266.35 615.81L268.40 617.36L270.44 618.93L272.48 620.50L274.52 622.07L276.56 623.62L278.60 625.15L280.64 626.63L282.69 628.07L284.73 629.45L286.77 630.76L288.81 631.99L290.85 633.12L292.89 634.16L294.94 635.11L296.98 635.96L299.02 636.74L301.06 637.44L303.10 638.07L305.14 638.63L307.18 639.14L309.23 639.58L311.27 639.98L313.31 640.32L315.35 640.63L317.39 640.90L319.43 641.14L321.47 641.36L323.52 641.55L325.56 641.73L327.60 641.90L329.64 642.07L331.68 642.23L333.72 642.40L335.76 642.58L337.81 642.78L339.85 642.98L341.89 643.19L343.93 643.42L345.97 643.65L348.01 643.89L350.05 644.14L352.10 644.39L354.14 644.65L356.18 644.92L358.22 645.18L360.26 645.46L362.30 645.73L364.35 646.01L366.39 646.28L368.43 646.56L370.47 646.83L372.51 647.11L374.55 647.38L376.59 647.65L378.64 647.91L380.68 648.17L382.72 648.42L384.76 648.67L386.80 648.91L388.84 649.15L390.88 649.38L392.93 649.61L394.97 649.83L397.01 650.05L399.05 650.27L401.09 650.47L403.13 650.68L405.17 650.88L407.22 651.07L409.26 651.26L411.30 651.44L413.34 651.62L415.38 651.80L417.42 651.97L419.46 652.14L421.51 652.30L423.55 652.46L425.59 652.62L427.63 652.77L429.67 652.91L431.71 653.06L433.76 653.20L435.80 653.33L437.84 653.46L439.88 653.59L441.92 653.72L443.96 653.84L446.00 653.95L448.05 654.07L450.09 654.18L452.13 654.29L454.17 654.39L456.21 654.49L458.25 654.59L460.29 654.68L462.34 654.78L464.38 654.86L466.42 654.95L468.46 655.03L470.50 655.11L472.54 655.19L474.58 655.27L476.63 655.34L478.67 655.41L480.71 655.48L482.75 655.54L484.79 655.60L486.83 655.66L488.87 655.72L490.92 655.78L492.96 655.83L495.00 655.88L497.04 655.93L499.08 655.98L501.12 656.03L503.17 656.07L505.21 656.12L507.25 656.16L509.29 656.20L511.33 656.24L513.37 656.27L515.41 656.31L517.46 656.34L519.50 656.37L521.54 656.40L523.58 656.43L525.62 656.46L527.66 656.49L529.70 656.52L531.75 656.54L533.79 656.57L535.83 656.59L537.87 656.62L539.91 656.64L541.95 656.66L543.99 656.68L546.04 656.70L548.08 656.72L550.12 656.75L552.16 656.76L554.20 656.78L556.24 656.80L558.28 656.82L560.33 656.84L562.37 656.86L564.41 656.88L566.45 656.90L568.49 656.92L570.53 656.94L572.58 656.96L574.62 656.98L576.66 657.00L578.70 657.02L580.74 657.04L582.78 657.07L584.82 657.09L586.87 657.11L588.91 657.14L590.95 657.16L592.99 657.19L595.03 657.21L597.07 657.24L599.11 657.27L601.16 657.30L603.20 657.33L605.24 657.37L607.28 657.40L609.32 657.44L611.36 657.47L613.40 657.51L615.45 657.55L617.49 657.59L619.53 657.63L621.57 657.68L623.61 657.73L625.65 657.77L627.69 657.83L629.74 657.88L631.78 657.93L633.82 657.99L635.86 658.05L637.90 658.11L639.94 658.17L641.99 658.24L644.03 658.30L646.07 658.38L648.11 658.45L650.15 658.52L652.19 658.60L654.23 658.68L656.28 658.77L658.32 658.85L660.36 658.94L662.40 659.03" stroke="#f538b0" stroke-width="2.8" stroke-dasharray="2.8 3.6"/>
<path d="M52.00 634.80L54.04 634.14L56.08 633.43L58.12 632.66L60.17 631.83L62.21 630.95L64.25 630.02L66.29 629.04L68.33 628.01L70.37 626.93L72.41 625.81L74.46 624.64L76.50 623.43L78.54 622.17L80.58 620.88L82.62 619.55L84.66 618.19L86.71 616.79L88.75 615.36L90.79 613.89L92.83 612.40L94.87 610.88L96.91 609.33L98.95 607.76L101.00 606.16L103.04 604.54L105.08 602.90L107.12 601.25L109.16 599.58L111.20 597.90L113.24 596.21L115.29 594.52L117.33 592.83L119.37 591.15L121.41 589.47L123.45 587.80L125.49 586.16L127.53 584.53L129.58 582.92L131.62 581.34L133.66 579.79L135.70 578.27L137.74 576.79L139.78 575.36L141.82 573.97L143.87 572.62L145.91 571.34L147.95 570.10L149.99 568.93L152.03 567.82L154.07 566.78L156.12 565.81L158.16 564.92L160.20 564.10L162.24 563.36L164.28 562.69L166.32 562.11L168.36 561.60L170.41 561.17L172.45 560.81L174.49 560.54L176.53 560.35L178.57 560.23L180.61 560.19L182.65 560.23L184.70 560.36L186.74 560.56L188.78 560.84L190.82 561.20L192.86 561.65L194.90 562.17L196.94 562.78L198.99 563.46L201.03 564.23L203.07 565.06L205.11 565.96L207.15 566.92L209.19 567.94L211.23 569.00L213.28 570.11L215.32 571.25L217.36 572.42L219.40 573.62L221.44 574.84L223.48 576.07L225.53 577.31L227.57 578.55L229.61 579.79L231.65 581.02L233.69 582.24L235.73 583.43L237.77 584.61L239.82 585.78L241.86 586.92L243.90 588.05L245.94 589.16L247.98 590.25L250.02 591.33L252.06 592.39L254.11 593.43L256.15 594.46L258.19 595.48L260.23 596.47L262.27 597.45L264.31 598.42L266.35 599.37L268.40 600.31L270.44 601.23L272.48 602.13L274.52 603.03L276.56 603.90L278.60 604.77L280.64 605.62L282.69 606.45L284.73 607.27L286.77 608.08L288.81 608.88L290.85 609.66L292.89 610.43L294.94 611.19L296.98 611.93L299.02 612.66L301.06 613.38L303.10 614.09L305.14 614.78L307.18 615.47L309.23 616.14L311.27 616.80L313.31 617.45L315.35 618.09L317.39 618.72L319.43 619.34L321.47 619.94L323.52 620.54L325.56 621.13L327.60 621.70L329.64 622.27L331.68 622.83L333.72 623.37L335.76 623.91L337.81 624.44L339.85 624.96L341.89 625.47L343.93 625.98L345.97 626.47L348.01 626.96L350.05 627.44L352.10 627.91L354.14 628.37L356.18 628.83L358.22 629.27L360.26 629.72L362.30 630.15L364.35 630.58L366.39 631.00L368.43 631.41L370.47 631.82L372.51 632.22L374.55 632.62L376.59 633.01L378.64 633.39L380.68 633.77L382.72 634.14L384.76 634.51L386.80 634.88L388.84 635.23L390.88 635.59L392.93 635.93L394.97 636.28L397.01 636.62L399.05 636.95L401.09 637.28L403.13 637.60L405.17 637.92L407.22 638.23L409.26 638.54L411.30 638.85L413.34 639.15L415.38 639.44L417.42 639.73L419.46 640.02L421.51 640.30L423.55 640.58L425.59 640.85L427.63 641.12L429.67 641.38L431.71 641.64L433.76 641.90L435.80 642.15L437.84 642.40L439.88 642.64L441.92 642.88L443.96 643.12L446.00 643.35L448.05 643.58L450.09 643.80L452.13 644.03L454.17 644.24L456.21 644.46L458.25 644.67L460.29 644.87L462.34 645.07L464.38 645.27L466.42 645.47L468.46 645.66L470.50 645.85L472.54 646.04L474.58 646.22L476.63 646.40L478.67 646.58L480.71 646.75L482.75 646.92L484.79 647.09L486.83 647.25L488.87 647.41L490.92 647.57L492.96 647.73L495.00 647.88L497.04 648.03L499.08 648.18L501.12 648.32L503.17 648.46L505.21 648.60L507.25 648.74L509.29 648.87L511.33 649.00L513.37 649.13L515.41 649.26L517.46 649.39L519.50 649.51L521.54 649.63L523.58 649.75L525.62 649.87L527.66 649.98L529.70 650.09L531.75 650.20L533.79 650.31L535.83 650.42L537.87 650.52L539.91 650.63L541.95 650.73L543.99 650.83L546.04 650.92L548.08 651.02L550.12 651.11L552.16 651.21L554.20 651.30L556.24 651.39L558.28 651.48L560.33 651.57L562.37 651.65L564.41 651.74L566.45 651.82L568.49 651.90L570.53 651.99L572.58 652.07L574.62 652.15L576.66 652.23L578.70 652.30L580.74 652.38L582.78 652.46L584.82 652.53L586.87 652.61L588.91 652.68L590.95 652.75L592.99 652.83L595.03 652.90L597.07 652.97L599.11 653.04L601.16 653.11L603.20 653.18L605.24 653.25L607.28 653.32L609.32 653.39L611.36 653.46L613.40 653.53L615.45 653.60L617.49 653.67L619.53 653.74L621.57 653.81L623.61 653.88L625.65 653.94L627.69 654.01L629.74 654.08L631.78 654.15L633.82 654.22L635.86 654.29L637.90 654.37L639.94 654.44L641.99 654.51L644.03 654.58L646.07 654.66L648.11 654.73L650.15 654.80L652.19 654.88L654.23 654.95L656.28 655.03L658.32 655.11L660.36 655.19L662.40 655.27" stroke="#c04cf5" stroke-width="3"/>
<path d="M52.00 635.79L54.04 635.41L56.08 634.95L58.12 634.40L60.17 633.77L62.21 633.06L64.25 632.29L66.29 631.44L68.33 630.52L70.37 629.54L72.41 628.50L74.46 627.41L76.50 626.26L78.54 625.06L80.58 623.81L82.62 622.51L84.66 621.18L86.71 619.81L88.75 618.40L90.79 616.96L92.83 615.49L94.87 614.00L96.91 612.48L98.95 610.95L101.00 609.40L103.04 607.84L105.08 606.27L107.12 604.69L109.16 603.11L111.20 601.53L113.24 599.95L115.29 598.39L117.33 596.83L119.37 595.29L121.41 593.77L123.45 592.27L125.49 590.79L127.53 589.34L129.58 587.93L131.62 586.55L133.66 585.20L135.70 583.90L137.74 582.65L139.78 581.45L141.82 580.30L143.87 579.20L145.91 578.17L147.95 577.20L149.99 576.29L152.03 575.46L154.07 574.69L156.12 574.01L158.16 573.41L160.20 572.88L162.24 572.44L164.28 572.08L166.32 571.79L168.36 571.58L170.41 571.44L172.45 571.38L174.49 571.39L176.53 571.47L178.57 571.62L180.61 571.84L182.65 572.12L184.70 572.47L186.74 572.88L188.78 573.36L190.82 573.90L192.86 574.50L194.90 575.16L196.94 575.87L198.99 576.65L201.03 577.47L203.07 578.35L205.11 579.26L207.15 580.22L209.19 581.21L211.23 582.24L213.28 583.29L215.32 584.36L217.36 585.45L219.40 586.56L221.44 587.67L223.48 588.79L225.53 589.92L227.57 591.04L229.61 592.15L231.65 593.25L233.69 594.33L235.73 595.40L237.77 596.45L239.82 597.48L241.86 598.49L243.90 599.49L245.94 600.47L247.98 601.43L250.02 602.38L252.06 603.31L254.11 604.22L256.15 605.12L258.19 606.00L260.23 606.87L262.27 607.72L264.31 608.56L266.35 609.38L268.40 610.18L270.44 610.98L272.48 611.75L274.52 612.52L276.56 613.27L278.60 614.01L280.64 614.73L282.69 615.44L284.73 616.14L286.77 616.82L288.81 617.49L290.85 618.15L292.89 618.80L294.94 619.43L296.98 620.06L299.02 620.67L301.06 621.27L303.10 621.86L305.14 622.43L307.18 623.00L309.23 623.56L311.27 624.10L313.31 624.64L315.35 625.17L317.39 625.68L319.43 626.19L321.47 626.69L323.52 627.18L325.56 627.66L327.60 628.13L329.64 628.59L331.68 629.05L333.72 629.49L335.76 629.93L337.81 630.36L339.85 630.79L341.89 631.20L343.93 631.61L345.97 632.01L348.01 632.41L350.05 632.80L352.10 633.18L354.14 633.56L356.18 633.93L358.22 634.30L360.26 634.66L362.30 635.01L364.35 635.36L366.39 635.71L368.43 636.05L370.47 636.39L372.51 636.72L374.55 637.05L376.59 637.37L378.64 637.69L380.68 638.01L382.72 638.33L384.76 638.64L386.80 638.95L388.84 639.25L390.88 639.55L392.93 639.85L394.97 640.15L397.01 640.44L399.05 640.73L401.09 641.02L403.13 641.30L405.17 641.58L407.22 641.86L409.26 642.14L411.30 642.41L413.34 642.68L415.38 642.94L417.42 643.21L419.46 643.47L421.51 643.72L423.55 643.98L425.59 644.23L427.63 644.48L429.67 644.72L431.71 644.97L433.76 645.21L435.80 645.44L437.84 645.68L439.88 645.91L441.92 646.14L443.96 646.37L446.00 646.59L448.05 646.81L450.09 647.03L452.13 647.24L454.17 647.46L456.21 647.67L458.25 647.87L460.29 648.08L462.34 648.28L464.38 648.48L466.42 648.68L468.46 648.87L470.50 649.06L472.54 649.25L474.58 649.44L476.63 649.62L478.67 649.80L480.71 649.98L482.75 650.16L484.79 650.33L486.83 650.51L488.87 650.67L490.92 650.84L492.96 651.01L495.00 651.17L497.04 651.33L499.08 651.49L501.12 651.64L503.17 651.79L505.21 651.94L507.25 652.09L509.29 652.24L511.33 652.38L513.37 652.52L515.41 652.66L517.46 652.80L519.50 652.93L521.54 653.07L523.58 653.20L525.62 653.32L527.66 653.45L529.70 653.57L531.75 653.70L533.79 653.82L535.83 653.93L537.87 654.05L539.91 654.16L541.95 654.27L543.99 654.38L546.04 654.49L548.08 654.59L550.12 654.70L552.16 654.80L554.20 654.90L556.24 655.00L558.28 655.09L560.33 655.18L562.37 655.28L564.41 655.37L566.45 655.45L568.49 655.54L570.53 655.62L572.58 655.71L574.62 655.79L576.66 655.86L578.70 655.94L580.74 656.02L582.78 656.09L584.82 656.16L586.87 656.23L588.91 656.30L590.95 656.37L592.99 656.43L595.03 656.49L597.07 656.55L599.11 656.61L601.16 656.67L603.20 656.73L605.24 656.78L607.28 656.84L609.32 656.89L611.36 656.94L613.40 656.99L615.45 657.04L617.49 657.08L619.53 657.12L621.57 657.17L623.61 657.21L625.65 657.25L627.69 657.29L629.74 657.32L631.78 657.36L633.82 657.39L635.86 657.42L637.90 657.46L639.94 657.49L641.99 657.51L644.03 657.54L646.07 657.57L648.11 657.59L650.15 657.62L652.19 657.64L654.23 657.66L656.28 657.68L658.32 657.70L660.36 657.71L662.40 657.73" stroke="#c04cf5" stroke-width="2.8" stroke-dasharray="2.8 3.6"/>
</g>
<text x="52.00" y="692.0" font-size="18" text-anchor="middle">200</text>
<text x="113.04" y="692.0" font-size="18" text-anchor="middle">300</text>
<text x="174.08" y="692.0" font-size="18" text-anchor="middle">400</text>
<text x="235.12" y="692.0" font-size="18" text-anchor="middle">500</text>
<text x="296.16" y="692.0" font-size="18" text-anchor="middle">600</text>
<text x="357.20" y="692.0" font-size="18" text-anchor="middle">700</text>
<text x="418.24" y="692.0" font-size="18" text-anchor="middle">800</text>
<text x="479.28" y="692.0" font-size="18" text-anchor="middle">900</text>
<text x="540.32" y="692.0" font-size="18" text-anchor="middle">1000</text>
<text x="601.36" y="692.0" font-size="18" text-anchor="middle">1100</text>
<text x="662.40" y="692.0" font-size="18" text-anchor="middle">1200</text>
<text x="46.5" y="675.20" font-size="18" text-anchor="end">0</text>
<text x="46.5" y="617.82" font-size="18" text-anchor="end">0.2</text>
<text x="46.5" y="560.44" font-size="18" text-anchor="end">0.4</text>
<text x="46.5" y="503.06" font-size="18" text-anchor="end">0.6</text>
<text x="46.5" y="445.68" font-size="18" text-anchor="end">0.8</text>
<text x="46.5" y="388.30" font-size="18" text-anchor="end">1</text>
<text x="68" y="412.5" font-size="23.5" style="fill:#000">(b)</text>
<text transform="translate(14.9 524.3) rotate(-90) scale(1.0 1)" x="0" y="0" text-anchor="middle" font-size="22" style="font-family:'Liberation Serif',serif;fill:#262626;font-style:italic;">α</text>
<text x="357.5" y="717" font-size="19.8" text-anchor="middle">Frequency (Hz)</text>
<rect x="216.9" y="387.4" width="439.2" height="83.0" fill="#fff" stroke="#a8a8a8" stroke-width="1"/>
<line x1="219.2" y1="398.0" x2="244.2" y2="398.0" stroke="#f21d14" stroke-width="3"/>
<text x="245.5" y="404.9" font-size="16.3">n=1 (EMA)</text>
<line x1="219.2" y1="418.6" x2="244.2" y2="418.6" stroke="#f21d14" stroke-width="3.1" stroke-dasharray="3.4 3.2"/>
<text x="245.5" y="425.5" font-size="16.3">n=1 (FEM)</text>
<line x1="219.2" y1="438.8" x2="244.2" y2="438.8" stroke="#dba43a" stroke-width="3"/>
<text x="245.5" y="445.7" font-size="16.3">n=2 (EMA)</text>
<line x1="219.2" y1="459.2" x2="244.2" y2="459.2" stroke="#dba43a" stroke-width="3.1" stroke-dasharray="3.4 3.2"/>
<text x="245.5" y="466.1" font-size="16.3">n=2 (FEM)</text>
<line x1="328.9" y1="398.0" x2="353.9" y2="398.0" stroke="#ecf33a" stroke-width="3"/>
<text x="355.2" y="404.9" font-size="16.3">n=3 (EMA)</text>
<line x1="328.9" y1="418.6" x2="353.9" y2="418.6" stroke="#ecf33a" stroke-width="3.1" stroke-dasharray="3.4 3.2"/>
<text x="355.2" y="425.5" font-size="16.3">n=3 (FEM)</text>
<line x1="328.9" y1="438.8" x2="353.9" y2="438.8" stroke="#3cec1e" stroke-width="3"/>
<text x="355.2" y="445.7" font-size="16.3">n=4 (EMA)</text>
<line x1="328.9" y1="459.2" x2="353.9" y2="459.2" stroke="#3cec1e" stroke-width="3.1" stroke-dasharray="3.4 3.2"/>
<text x="355.2" y="466.1" font-size="16.3">n=4 (FEM)</text>
<line x1="439.1" y1="398.0" x2="464.1" y2="398.0" stroke="#70f8f8" stroke-width="3"/>
<text x="465.40000000000003" y="404.9" font-size="16.3">n=5 (EMA)</text>
<line x1="439.1" y1="418.6" x2="464.1" y2="418.6" stroke="#70f8f8" stroke-width="3.1" stroke-dasharray="3.4 3.2"/>
<text x="465.40000000000003" y="425.5" font-size="16.3">n=5 (FEM)</text>
<line x1="439.1" y1="438.8" x2="464.1" y2="438.8" stroke="#3a78bf" stroke-width="3"/>
<text x="465.40000000000003" y="445.7" font-size="16.3">n=6 (EMA)</text>
<line x1="439.1" y1="459.2" x2="464.1" y2="459.2" stroke="#3a78bf" stroke-width="3.1" stroke-dasharray="3.4 3.2"/>
<text x="465.40000000000003" y="466.1" font-size="16.3">n=6 (FEM)</text>
<line x1="549.1" y1="398.0" x2="574.1" y2="398.0" stroke="#f538b0" stroke-width="3"/>
<text x="575.4" y="404.9" font-size="16.3">n=7 (EMA)</text>
<line x1="549.1" y1="418.6" x2="574.1" y2="418.6" stroke="#f538b0" stroke-width="3.1" stroke-dasharray="3.4 3.2"/>
<text x="575.4" y="425.5" font-size="16.3">n=7 (FEM)</text>
<line x1="549.1" y1="438.8" x2="574.1" y2="438.8" stroke="#c04cf5" stroke-width="3"/>
<text x="575.4" y="445.7" font-size="16.3">n=8 (EMA)</text>
<line x1="549.1" y1="459.2" x2="574.1" y2="459.2" stroke="#c04cf5" stroke-width="3.1" stroke-dasharray="3.4 3.2"/>
<text x="575.4" y="466.1" font-size="16.3">n=8 (FEM)</text>
</svg></body></html>
